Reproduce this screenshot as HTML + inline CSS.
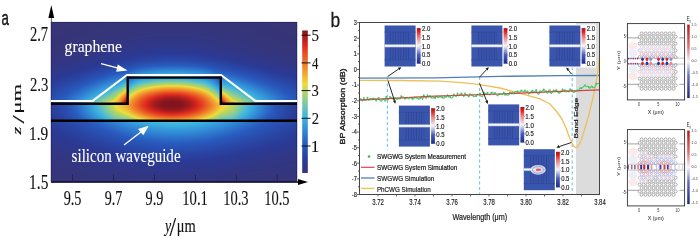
<!DOCTYPE html>
<html><head><meta charset="utf-8">
<style>
html,body{margin:0;padding:0;background:#fff;}
#wrap{position:relative;width:700px;height:239px;overflow:hidden;background:#fff;}
#hmbg{position:absolute;left:51px;top:22px;width:246px;height:160px;background:#373476;}
#hm{position:absolute;left:51px;top:22px;width:246px;height:160px;}
#ov{position:absolute;left:0;top:0;}
</style></head><body>
<div id="wrap">
<div id="hmbg"></div>
<svg width="246" height="160" style="position:absolute;left:51px;top:22px;"><defs><linearGradient id="h0"><stop offset="0.002" stop-color="#373476"/><stop offset="0.904" stop-color="#373477"/><stop offset="0.998" stop-color="#373476"/></linearGradient><linearGradient id="h2"><stop offset="0.002" stop-color="#373476"/><stop offset="0.823" stop-color="#363478"/><stop offset="0.998" stop-color="#373476"/></linearGradient><linearGradient id="h4"><stop offset="0.002" stop-color="#373477"/><stop offset="0.770" stop-color="#363579"/><stop offset="0.998" stop-color="#373477"/></linearGradient><linearGradient id="h6"><stop offset="0.002" stop-color="#373477"/><stop offset="0.734" stop-color="#35357a"/><stop offset="0.998" stop-color="#373477"/></linearGradient><linearGradient id="h8"><stop offset="0.002" stop-color="#373477"/><stop offset="0.705" stop-color="#35357b"/><stop offset="0.998" stop-color="#373477"/></linearGradient><linearGradient id="h10"><stop offset="0.002" stop-color="#373477"/><stop offset="0.681" stop-color="#34357d"/><stop offset="0.998" stop-color="#373477"/></linearGradient><linearGradient id="h12"><stop offset="0.002" stop-color="#373477"/><stop offset="0.661" stop-color="#34367e"/><stop offset="0.998" stop-color="#373477"/></linearGradient><linearGradient id="h14"><stop offset="0.002" stop-color="#373477"/><stop offset="0.644" stop-color="#333680"/><stop offset="0.998" stop-color="#373477"/></linearGradient><linearGradient id="h16"><stop offset="0.002" stop-color="#363477"/><stop offset="0.624" stop-color="#323682"/><stop offset="0.998" stop-color="#363477"/></linearGradient><linearGradient id="h18"><stop offset="0.002" stop-color="#363478"/><stop offset="0.612" stop-color="#323783"/><stop offset="0.998" stop-color="#363478"/></linearGradient><linearGradient id="h20"><stop offset="0.002" stop-color="#363478"/><stop offset="0.596" stop-color="#313786"/><stop offset="0.998" stop-color="#363478"/></linearGradient><linearGradient id="h22"><stop offset="0.002" stop-color="#363478"/><stop offset="0.583" stop-color="#303788"/><stop offset="0.998" stop-color="#363478"/></linearGradient><linearGradient id="h24"><stop offset="0.002" stop-color="#363479"/><stop offset="0.571" stop-color="#2e388b"/><stop offset="0.998" stop-color="#363579"/></linearGradient><linearGradient id="h26"><stop offset="0.002" stop-color="#363579"/><stop offset="0.559" stop-color="#2d398e"/><stop offset="0.998" stop-color="#363579"/></linearGradient><linearGradient id="h28"><stop offset="0.002" stop-color="#35357a"/><stop offset="0.547" stop-color="#2c3992"/><stop offset="0.998" stop-color="#35357a"/></linearGradient><linearGradient id="h30"><stop offset="0.002" stop-color="#35357a"/><stop offset="0.535" stop-color="#2a3a95"/><stop offset="0.998" stop-color="#35357b"/></linearGradient><linearGradient id="h32"><stop offset="0.002" stop-color="#35357b"/><stop offset="0.526" stop-color="#2a3d9a"/><stop offset="0.998" stop-color="#35357c"/></linearGradient><linearGradient id="h34"><stop offset="0.002" stop-color="#34357c"/><stop offset="0.514" stop-color="#2a419f"/><stop offset="0.998" stop-color="#34357d"/></linearGradient><linearGradient id="h36"><stop offset="0.002" stop-color="#34357d"/><stop offset="0.388" stop-color="#2942a0"/><stop offset="0.620" stop-color="#2a419f"/><stop offset="0.998" stop-color="#34367f"/></linearGradient><linearGradient id="h38"><stop offset="0.002" stop-color="#33367f"/><stop offset="0.331" stop-color="#2a429f"/><stop offset="0.543" stop-color="#294bab"/><stop offset="0.868" stop-color="#303788"/><stop offset="0.998" stop-color="#333680"/></linearGradient><linearGradient id="h40"><stop offset="0.002" stop-color="#333680"/><stop offset="0.291" stop-color="#2a419f"/><stop offset="0.498" stop-color="#2852b4"/><stop offset="0.730" stop-color="#2a3f9c"/><stop offset="0.998" stop-color="#323682"/></linearGradient><linearGradient id="h42"><stop offset="0.002" stop-color="#323682"/><stop offset="0.258" stop-color="#2a419f"/><stop offset="0.470" stop-color="#285abe"/><stop offset="0.636" stop-color="#2950b1"/><stop offset="0.872" stop-color="#2d398e"/><stop offset="0.998" stop-color="#313784"/></linearGradient><linearGradient id="h44"><stop offset="0.002" stop-color="#323783"/><stop offset="0.230" stop-color="#2a42a0"/><stop offset="0.429" stop-color="#2a64c3"/><stop offset="0.567" stop-color="#2a64c3"/><stop offset="0.852" stop-color="#2b3a94"/><stop offset="0.998" stop-color="#303786"/></linearGradient><linearGradient id="h46"><stop offset="0.002" stop-color="#313785"/><stop offset="0.205" stop-color="#2942a0"/><stop offset="0.343" stop-color="#295ec0"/><stop offset="0.461" stop-color="#2e79cd"/><stop offset="0.591" stop-color="#2c70c9"/><stop offset="0.697" stop-color="#2852b4"/><stop offset="0.925" stop-color="#2d398f"/><stop offset="0.998" stop-color="#2f3788"/></linearGradient><linearGradient id="h48"><stop offset="0.002" stop-color="#303788"/><stop offset="0.181" stop-color="#2943a1"/><stop offset="0.323" stop-color="#2960c1"/><stop offset="0.396" stop-color="#3080d1"/><stop offset="0.518" stop-color="#328dd7"/><stop offset="0.632" stop-color="#2d75cc"/><stop offset="0.693" stop-color="#2859bd"/><stop offset="0.941" stop-color="#2c3991"/><stop offset="0.998" stop-color="#2e388b"/></linearGradient><linearGradient id="h50"><stop offset="0.002" stop-color="#2f388a"/><stop offset="0.165" stop-color="#2944a3"/><stop offset="0.311" stop-color="#2a66c4"/><stop offset="0.376" stop-color="#328ed7"/><stop offset="0.502" stop-color="#37a1dc"/><stop offset="0.624" stop-color="#328bd7"/><stop offset="0.693" stop-color="#2a65c3"/><stop offset="0.917" stop-color="#2a3b98"/><stop offset="0.998" stop-color="#2d398e"/></linearGradient><linearGradient id="h52"><stop offset="0.002" stop-color="#2e388d"/><stop offset="0.157" stop-color="#2947a6"/><stop offset="0.287" stop-color="#2b69c6"/><stop offset="0.323" stop-color="#3080d1"/><stop offset="0.380" stop-color="#37a2dc"/><stop offset="0.490" stop-color="#3fb5de"/><stop offset="0.600" stop-color="#39a7de"/><stop offset="0.661" stop-color="#3186d4"/><stop offset="0.697" stop-color="#2c70c9"/><stop offset="0.815" stop-color="#294fb0"/><stop offset="0.998" stop-color="#2c3991"/></linearGradient><linearGradient id="h54"><stop offset="0.002" stop-color="#2d398f"/><stop offset="0.173" stop-color="#294fb0"/><stop offset="0.270" stop-color="#2c6fc8"/><stop offset="0.311" stop-color="#3185d3"/><stop offset="0.368" stop-color="#3bb2e0"/><stop offset="0.470" stop-color="#61c0bf"/><stop offset="0.555" stop-color="#5abec5"/><stop offset="0.632" stop-color="#3aaedf"/><stop offset="0.693" stop-color="#3080d1"/><stop offset="0.823" stop-color="#2852b5"/><stop offset="0.998" stop-color="#2b3a94"/></linearGradient><linearGradient id="h56"><stop offset="0.002" stop-color="#2c3992"/><stop offset="0.197" stop-color="#285abe"/><stop offset="0.299" stop-color="#338fd8"/><stop offset="0.307" stop-color="#3597da"/><stop offset="0.311" stop-color="#2a63c3"/><stop offset="0.356" stop-color="#3495d9"/><stop offset="0.445" stop-color="#3fb5df"/><stop offset="0.522" stop-color="#43b6db"/><stop offset="0.591" stop-color="#39a7de"/><stop offset="0.644" stop-color="#3187d5"/><stop offset="0.689" stop-color="#2952b3"/><stop offset="0.693" stop-color="#338ed8"/><stop offset="0.839" stop-color="#2855b7"/><stop offset="0.998" stop-color="#2a3b98"/></linearGradient><linearGradient id="h58"><stop offset="0.002" stop-color="#2a3a95"/><stop offset="0.185" stop-color="#295fc0"/><stop offset="0.291" stop-color="#359ada"/><stop offset="0.307" stop-color="#39aade"/><stop offset="0.311" stop-color="#2d73cb"/><stop offset="0.352" stop-color="#39a6de"/><stop offset="0.380" stop-color="#43b6da"/><stop offset="0.461" stop-color="#6ac3b7"/><stop offset="0.535" stop-color="#67c2ba"/><stop offset="0.620" stop-color="#3bb0e0"/><stop offset="0.665" stop-color="#3080d1"/><stop offset="0.689" stop-color="#2859bc"/><stop offset="0.693" stop-color="#369cdb"/><stop offset="0.860" stop-color="#2855b8"/><stop offset="0.998" stop-color="#2a3e9b"/></linearGradient><linearGradient id="h60"><stop offset="0.002" stop-color="#2a3b98"/><stop offset="0.169" stop-color="#2961c2"/><stop offset="0.283" stop-color="#38a3dd"/><stop offset="0.299" stop-color="#3cb4e1"/><stop offset="0.307" stop-color="#4bb9d3"/><stop offset="0.311" stop-color="#3084d3"/><stop offset="0.343" stop-color="#3cb3e1"/><stop offset="0.384" stop-color="#6ac3b7"/><stop offset="0.457" stop-color="#94ce8a"/><stop offset="0.518" stop-color="#96ce88"/><stop offset="0.591" stop-color="#70c5b1"/><stop offset="0.632" stop-color="#48b8d6"/><stop offset="0.644" stop-color="#3baee0"/><stop offset="0.681" stop-color="#2d74cb"/><stop offset="0.689" stop-color="#2a64c3"/><stop offset="0.693" stop-color="#3aabdf"/><stop offset="0.872" stop-color="#2858bb"/><stop offset="0.998" stop-color="#2a419f"/></linearGradient><linearGradient id="h62"><stop offset="0.002" stop-color="#2a3e9b"/><stop offset="0.152" stop-color="#2a63c2"/><stop offset="0.274" stop-color="#3aacdf"/><stop offset="0.287" stop-color="#43b6da"/><stop offset="0.307" stop-color="#6bc4b6"/><stop offset="0.311" stop-color="#3494d9"/><stop offset="0.331" stop-color="#40b5dd"/><stop offset="0.368" stop-color="#80caa0"/><stop offset="0.433" stop-color="#b6d563"/><stop offset="0.490" stop-color="#ced951"/><stop offset="0.547" stop-color="#b8d661"/><stop offset="0.612" stop-color="#85cb9b"/><stop offset="0.648" stop-color="#49b8d5"/><stop offset="0.657" stop-color="#3bb1e0"/><stop offset="0.689" stop-color="#2d72ca"/><stop offset="0.693" stop-color="#4ab9d4"/><stop offset="0.709" stop-color="#3cb2e1"/><stop offset="0.888" stop-color="#2859bd"/><stop offset="0.998" stop-color="#2944a3"/></linearGradient><linearGradient id="h64"><stop offset="0.002" stop-color="#2a409e"/><stop offset="0.136" stop-color="#2a63c3"/><stop offset="0.262" stop-color="#3cb2e1"/><stop offset="0.295" stop-color="#74c7ae"/><stop offset="0.307" stop-color="#94ce8a"/><stop offset="0.311" stop-color="#39a8de"/><stop offset="0.319" stop-color="#41b6dd"/><stop offset="0.356" stop-color="#94ce8a"/><stop offset="0.392" stop-color="#c4d856"/><stop offset="0.421" stop-color="#f0dc3c"/><stop offset="0.482" stop-color="#f0c237"/><stop offset="0.543" stop-color="#f0cf39"/><stop offset="0.567" stop-color="#ebdb3f"/><stop offset="0.608" stop-color="#b1d469"/><stop offset="0.640" stop-color="#7cc9a5"/><stop offset="0.669" stop-color="#3bb0e0"/><stop offset="0.689" stop-color="#3186d4"/><stop offset="0.693" stop-color="#6fc5b2"/><stop offset="0.713" stop-color="#4dbad2"/><stop offset="0.738" stop-color="#3bb1e0"/><stop offset="0.909" stop-color="#2859bc"/><stop offset="0.998" stop-color="#2947a6"/></linearGradient><linearGradient id="h66"><stop offset="0.002" stop-color="#2943a1"/><stop offset="0.120" stop-color="#2a63c3"/><stop offset="0.246" stop-color="#3cb3e1"/><stop offset="0.283" stop-color="#7ac8a7"/><stop offset="0.307" stop-color="#bfd759"/><stop offset="0.311" stop-color="#48b8d6"/><stop offset="0.352" stop-color="#b1d469"/><stop offset="0.376" stop-color="#ecdc3e"/><stop offset="0.449" stop-color="#f0a030"/><stop offset="0.506" stop-color="#f0972e"/><stop offset="0.563" stop-color="#f0b234"/><stop offset="0.608" stop-color="#ecdc3e"/><stop offset="0.636" stop-color="#a8d273"/><stop offset="0.677" stop-color="#3cb4e1"/><stop offset="0.689" stop-color="#369adb"/><stop offset="0.693" stop-color="#99cf85"/><stop offset="0.713" stop-color="#6ac3b7"/><stop offset="0.758" stop-color="#3cb2e1"/><stop offset="0.925" stop-color="#2859bd"/><stop offset="0.998" stop-color="#294aaa"/></linearGradient><linearGradient id="h68"><stop offset="0.002" stop-color="#2945a4"/><stop offset="0.108" stop-color="#2a65c3"/><stop offset="0.230" stop-color="#3db4e0"/><stop offset="0.266" stop-color="#76c7ac"/><stop offset="0.295" stop-color="#bfd759"/><stop offset="0.303" stop-color="#f0db3c"/><stop offset="0.307" stop-color="#f0cb39"/><stop offset="0.311" stop-color="#67c2b9"/><stop offset="0.348" stop-color="#d5d94c"/><stop offset="0.356" stop-color="#f0da3c"/><stop offset="0.400" stop-color="#f09e30"/><stop offset="0.457" stop-color="#ef7327"/><stop offset="0.514" stop-color="#ee6f27"/><stop offset="0.567" stop-color="#f08e2c"/><stop offset="0.620" stop-color="#f0cc39"/><stop offset="0.628" stop-color="#f0da3c"/><stop offset="0.652" stop-color="#a3d179"/><stop offset="0.685" stop-color="#41b6dd"/><stop offset="0.689" stop-color="#3baee0"/><stop offset="0.693" stop-color="#ccd852"/><stop offset="0.701" stop-color="#abd36f"/><stop offset="0.726" stop-color="#72c6af"/><stop offset="0.778" stop-color="#3cb2e1"/><stop offset="0.937" stop-color="#285abe"/><stop offset="0.998" stop-color="#294cad"/></linearGradient><linearGradient id="h70"><stop offset="0.002" stop-color="#2947a7"/><stop offset="0.096" stop-color="#2a65c4"/><stop offset="0.209" stop-color="#3cb2e1"/><stop offset="0.250" stop-color="#6fc5b2"/><stop offset="0.278" stop-color="#b0d46a"/><stop offset="0.287" stop-color="#d1d94f"/><stop offset="0.291" stop-color="#e9db40"/><stop offset="0.303" stop-color="#f0b234"/><stop offset="0.307" stop-color="#f09f30"/><stop offset="0.311" stop-color="#87cb99"/><stop offset="0.331" stop-color="#c7d854"/><stop offset="0.339" stop-color="#eddc3e"/><stop offset="0.380" stop-color="#f0932d"/><stop offset="0.437" stop-color="#e95a24"/><stop offset="0.490" stop-color="#e44722"/><stop offset="0.543" stop-color="#e85724"/><stop offset="0.600" stop-color="#f08e2c"/><stop offset="0.636" stop-color="#f0cb39"/><stop offset="0.644" stop-color="#eddc3e"/><stop offset="0.657" stop-color="#b8d661"/><stop offset="0.689" stop-color="#52bbcd"/><stop offset="0.693" stop-color="#f0c237"/><stop offset="0.701" stop-color="#e7db41"/><stop offset="0.709" stop-color="#bbd65e"/><stop offset="0.734" stop-color="#80caa1"/><stop offset="0.795" stop-color="#3cb3e1"/><stop offset="0.949" stop-color="#285abe"/><stop offset="0.998" stop-color="#294fb0"/></linearGradient><linearGradient id="h72"><stop offset="0.002" stop-color="#294aaa"/><stop offset="0.083" stop-color="#2a65c3"/><stop offset="0.197" stop-color="#3db4e0"/><stop offset="0.246" stop-color="#7dc9a5"/><stop offset="0.270" stop-color="#b6d563"/><stop offset="0.283" stop-color="#f0da3c"/><stop offset="0.303" stop-color="#f0872b"/><stop offset="0.307" stop-color="#ee7227"/><stop offset="0.311" stop-color="#a6d276"/><stop offset="0.319" stop-color="#bfd759"/><stop offset="0.327" stop-color="#e9db40"/><stop offset="0.339" stop-color="#f0c137"/><stop offset="0.376" stop-color="#f07a28"/><stop offset="0.437" stop-color="#e13a20"/><stop offset="0.486" stop-color="#da281e"/><stop offset="0.539" stop-color="#df3520"/><stop offset="0.596" stop-color="#ed6b26"/><stop offset="0.632" stop-color="#f0a631"/><stop offset="0.652" stop-color="#f0d53b"/><stop offset="0.657" stop-color="#e9db40"/><stop offset="0.665" stop-color="#bfd759"/><stop offset="0.689" stop-color="#71c6b0"/><stop offset="0.693" stop-color="#f0922d"/><stop offset="0.709" stop-color="#f0d63b"/><stop offset="0.722" stop-color="#bbd65e"/><stop offset="0.742" stop-color="#8ecd91"/><stop offset="0.803" stop-color="#44b7da"/><stop offset="0.819" stop-color="#3aaddf"/><stop offset="0.961" stop-color="#285abe"/><stop offset="0.998" stop-color="#2951b3"/></linearGradient><linearGradient id="h74"><stop offset="0.002" stop-color="#294cac"/><stop offset="0.075" stop-color="#2a66c4"/><stop offset="0.181" stop-color="#3cb3e1"/><stop offset="0.238" stop-color="#89cc97"/><stop offset="0.258" stop-color="#aed46c"/><stop offset="0.266" stop-color="#c9d853"/><stop offset="0.274" stop-color="#f0d93b"/><stop offset="0.295" stop-color="#f0892b"/><stop offset="0.307" stop-color="#e44722"/><stop offset="0.311" stop-color="#c6d855"/><stop offset="0.319" stop-color="#f0db3c"/><stop offset="0.360" stop-color="#f07d29"/><stop offset="0.413" stop-color="#df3520"/><stop offset="0.437" stop-color="#d0251e"/><stop offset="0.482" stop-color="#b41f1e"/><stop offset="0.526" stop-color="#be211e"/><stop offset="0.563" stop-color="#dd2d1f"/><stop offset="0.620" stop-color="#ef7528"/><stop offset="0.661" stop-color="#f0d03a"/><stop offset="0.665" stop-color="#f0db3c"/><stop offset="0.677" stop-color="#b6d563"/><stop offset="0.689" stop-color="#90cd8f"/><stop offset="0.693" stop-color="#eb6225"/><stop offset="0.709" stop-color="#f0b234"/><stop offset="0.722" stop-color="#f0dc3c"/><stop offset="0.734" stop-color="#b8d661"/><stop offset="0.783" stop-color="#6fc5b3"/><stop offset="0.827" stop-color="#3bb2e0"/><stop offset="0.970" stop-color="#285bbe"/><stop offset="0.998" stop-color="#2853b6"/></linearGradient><linearGradient id="h76"><stop offset="0.002" stop-color="#294eae"/><stop offset="0.071" stop-color="#2b6ac6"/><stop offset="0.169" stop-color="#3cb4e1"/><stop offset="0.222" stop-color="#87cb98"/><stop offset="0.258" stop-color="#c8d854"/><stop offset="0.266" stop-color="#f0dc3c"/><stop offset="0.287" stop-color="#f0902d"/><stop offset="0.303" stop-color="#e03720"/><stop offset="0.307" stop-color="#c8241e"/><stop offset="0.311" stop-color="#f0da3c"/><stop offset="0.356" stop-color="#ee7127"/><stop offset="0.404" stop-color="#dc2a1e"/><stop offset="0.453" stop-color="#a31b1e"/><stop offset="0.498" stop-color="#96191e"/><stop offset="0.543" stop-color="#ae1e1e"/><stop offset="0.583" stop-color="#de2f1f"/><stop offset="0.632" stop-color="#f07828"/><stop offset="0.673" stop-color="#f0da3c"/><stop offset="0.689" stop-color="#add36d"/><stop offset="0.693" stop-color="#de311f"/><stop offset="0.709" stop-color="#f08e2c"/><stop offset="0.730" stop-color="#f0d93b"/><stop offset="0.742" stop-color="#c4d856"/><stop offset="0.803" stop-color="#67c2ba"/><stop offset="0.839" stop-color="#3bb2e0"/><stop offset="0.978" stop-color="#285bbe"/><stop offset="0.998" stop-color="#2855b8"/></linearGradient><linearGradient id="h78"><stop offset="0.002" stop-color="#294fb1"/><stop offset="0.067" stop-color="#2c6dc7"/><stop offset="0.157" stop-color="#3cb3e1"/><stop offset="0.205" stop-color="#84cb9d"/><stop offset="0.242" stop-color="#c8d854"/><stop offset="0.254" stop-color="#efdc3d"/><stop offset="0.270" stop-color="#f0bb35"/><stop offset="0.291" stop-color="#ea6025"/><stop offset="0.299" stop-color="#dd2e1f"/><stop offset="0.303" stop-color="#b8201e"/><stop offset="0.307" stop-color="#86151e"/><stop offset="0.311" stop-color="#f0c537"/><stop offset="0.360" stop-color="#e95c25"/><stop offset="0.396" stop-color="#d9271e"/><stop offset="0.437" stop-color="#9e1a1e"/><stop offset="0.482" stop-color="#87151e"/><stop offset="0.530" stop-color="#91171e"/><stop offset="0.571" stop-color="#bd211e"/><stop offset="0.591" stop-color="#dd2b1e"/><stop offset="0.640" stop-color="#f07a28"/><stop offset="0.681" stop-color="#f0d93b"/><stop offset="0.689" stop-color="#d0d94f"/><stop offset="0.693" stop-color="#9f1a1e"/><stop offset="0.697" stop-color="#cf251e"/><stop offset="0.701" stop-color="#e13c21"/><stop offset="0.717" stop-color="#f0932d"/><stop offset="0.734" stop-color="#f0cc39"/><stop offset="0.742" stop-color="#f0da3c"/><stop offset="0.766" stop-color="#b3d567"/><stop offset="0.815" stop-color="#67c2b9"/><stop offset="0.852" stop-color="#3bb1e0"/><stop offset="0.982" stop-color="#285cbf"/><stop offset="0.998" stop-color="#2857ba"/></linearGradient><linearGradient id="h80"><stop offset="0.002" stop-color="#2951b3"/><stop offset="0.059" stop-color="#2c6cc7"/><stop offset="0.144" stop-color="#3bb2e0"/><stop offset="0.193" stop-color="#85cb9c"/><stop offset="0.226" stop-color="#c2d758"/><stop offset="0.238" stop-color="#ecdc3e"/><stop offset="0.274" stop-color="#f0992f"/><stop offset="0.291" stop-color="#e34522"/><stop offset="0.295" stop-color="#dd2a1e"/><stop offset="0.303" stop-color="#82141e"/><stop offset="0.307" stop-color="#82141e"/><stop offset="0.311" stop-color="#f0b434"/><stop offset="0.356" stop-color="#e95b24"/><stop offset="0.392" stop-color="#d5261e"/><stop offset="0.433" stop-color="#98191e"/><stop offset="0.474" stop-color="#83141e"/><stop offset="0.535" stop-color="#8b161e"/><stop offset="0.571" stop-color="#b21f1e"/><stop offset="0.600" stop-color="#de2f1f"/><stop offset="0.657" stop-color="#f0912d"/><stop offset="0.689" stop-color="#f0d83b"/><stop offset="0.693" stop-color="#82141e"/><stop offset="0.697" stop-color="#8b161e"/><stop offset="0.701" stop-color="#be211e"/><stop offset="0.705" stop-color="#de311f"/><stop offset="0.722" stop-color="#f08b2c"/><stop offset="0.730" stop-color="#f0a832"/><stop offset="0.758" stop-color="#f0dc3c"/><stop offset="0.778" stop-color="#b6d564"/><stop offset="0.823" stop-color="#6cc4b5"/><stop offset="0.860" stop-color="#3cb3e1"/><stop offset="0.986" stop-color="#295dc0"/><stop offset="0.998" stop-color="#2858bc"/></linearGradient><linearGradient id="h82"><stop offset="0.002" stop-color="#2a3e9b"/><stop offset="0.096" stop-color="#2a62c2"/><stop offset="0.181" stop-color="#3db4e0"/><stop offset="0.222" stop-color="#85cb9b"/><stop offset="0.250" stop-color="#bfd759"/><stop offset="0.262" stop-color="#eddc3e"/><stop offset="0.315" stop-color="#f09f30"/><stop offset="0.364" stop-color="#e44922"/><stop offset="0.388" stop-color="#d8271e"/><stop offset="0.429" stop-color="#99191e"/><stop offset="0.470" stop-color="#83141e"/><stop offset="0.535" stop-color="#89161e"/><stop offset="0.571" stop-color="#ae1e1e"/><stop offset="0.600" stop-color="#dd2a1e"/><stop offset="0.665" stop-color="#f0972e"/><stop offset="0.697" stop-color="#f0d13a"/><stop offset="0.709" stop-color="#eedc3d"/><stop offset="0.742" stop-color="#b5d564"/><stop offset="0.783" stop-color="#67c2ba"/><stop offset="0.811" stop-color="#3bb1e0"/><stop offset="0.909" stop-color="#285abd"/><stop offset="0.998" stop-color="#2a3e9b"/></linearGradient><linearGradient id="h84"><stop offset="0.002" stop-color="#2a3e9b"/><stop offset="0.096" stop-color="#2961c2"/><stop offset="0.181" stop-color="#3cb3e1"/><stop offset="0.226" stop-color="#8acc96"/><stop offset="0.254" stop-color="#c8d854"/><stop offset="0.266" stop-color="#efdc3d"/><stop offset="0.315" stop-color="#f0a431"/><stop offset="0.368" stop-color="#e44722"/><stop offset="0.392" stop-color="#d7271e"/><stop offset="0.433" stop-color="#9c1a1e"/><stop offset="0.474" stop-color="#85151e"/><stop offset="0.530" stop-color="#8c161e"/><stop offset="0.571" stop-color="#b51f1e"/><stop offset="0.596" stop-color="#dd2a1e"/><stop offset="0.661" stop-color="#f0942e"/><stop offset="0.697" stop-color="#f0d53b"/><stop offset="0.709" stop-color="#e7db41"/><stop offset="0.742" stop-color="#b2d468"/><stop offset="0.783" stop-color="#64c1bc"/><stop offset="0.807" stop-color="#3cb4e1"/><stop offset="0.909" stop-color="#2859bd"/><stop offset="0.998" stop-color="#2a3d9a"/></linearGradient><linearGradient id="h86"><stop offset="0.002" stop-color="#2a3d9a"/><stop offset="0.100" stop-color="#2a63c2"/><stop offset="0.185" stop-color="#3cb4e1"/><stop offset="0.230" stop-color="#8bcc94"/><stop offset="0.258" stop-color="#c8d854"/><stop offset="0.270" stop-color="#e8db41"/><stop offset="0.278" stop-color="#f0d73b"/><stop offset="0.315" stop-color="#f0ad33"/><stop offset="0.364" stop-color="#e85824"/><stop offset="0.400" stop-color="#da271e"/><stop offset="0.441" stop-color="#a41b1e"/><stop offset="0.486" stop-color="#8f171e"/><stop offset="0.535" stop-color="#9d1a1e"/><stop offset="0.575" stop-color="#cc251e"/><stop offset="0.591" stop-color="#de301f"/><stop offset="0.657" stop-color="#f0962e"/><stop offset="0.693" stop-color="#f0da3c"/><stop offset="0.734" stop-color="#b4d565"/><stop offset="0.787" stop-color="#58bdc7"/><stop offset="0.807" stop-color="#3bb1e0"/><stop offset="0.909" stop-color="#2858bc"/><stop offset="0.998" stop-color="#2a3d9a"/></linearGradient><linearGradient id="h88"><stop offset="0.002" stop-color="#2a3c99"/><stop offset="0.100" stop-color="#2960c1"/><stop offset="0.189" stop-color="#3cb3e1"/><stop offset="0.234" stop-color="#88cb98"/><stop offset="0.266" stop-color="#c9d853"/><stop offset="0.287" stop-color="#f0dc3c"/><stop offset="0.315" stop-color="#f0bc36"/><stop offset="0.376" stop-color="#e85724"/><stop offset="0.421" stop-color="#d5261e"/><stop offset="0.465" stop-color="#ac1d1e"/><stop offset="0.510" stop-color="#a91d1e"/><stop offset="0.555" stop-color="#cb241e"/><stop offset="0.575" stop-color="#de2f1f"/><stop offset="0.636" stop-color="#f0822a"/><stop offset="0.685" stop-color="#f0da3c"/><stop offset="0.705" stop-color="#c7d855"/><stop offset="0.742" stop-color="#9fd07d"/><stop offset="0.774" stop-color="#64c1bc"/><stop offset="0.799" stop-color="#3cb4e1"/><stop offset="0.904" stop-color="#2858bc"/><stop offset="0.998" stop-color="#2a3c99"/></linearGradient><linearGradient id="h90"><stop offset="0.002" stop-color="#2a3c98"/><stop offset="0.104" stop-color="#295fc1"/><stop offset="0.193" stop-color="#3bb1e0"/><stop offset="0.234" stop-color="#7ac9a7"/><stop offset="0.266" stop-color="#b4d566"/><stop offset="0.307" stop-color="#f0da3c"/><stop offset="0.388" stop-color="#e95e25"/><stop offset="0.445" stop-color="#dc291e"/><stop offset="0.494" stop-color="#c9241e"/><stop offset="0.547" stop-color="#de2e1f"/><stop offset="0.608" stop-color="#ed6d27"/><stop offset="0.677" stop-color="#eddc3e"/><stop offset="0.693" stop-color="#bcd75c"/><stop offset="0.742" stop-color="#90cd8e"/><stop offset="0.783" stop-color="#4cb9d3"/><stop offset="0.795" stop-color="#3bb2e0"/><stop offset="0.900" stop-color="#2858bb"/><stop offset="0.998" stop-color="#2a3b98"/></linearGradient><linearGradient id="h92"><stop offset="0.002" stop-color="#2a3a97"/><stop offset="0.112" stop-color="#2960c1"/><stop offset="0.201" stop-color="#3bb1e0"/><stop offset="0.242" stop-color="#78c8aa"/><stop offset="0.266" stop-color="#a0d17c"/><stop offset="0.307" stop-color="#cad853"/><stop offset="0.323" stop-color="#f0d93b"/><stop offset="0.396" stop-color="#ee7027"/><stop offset="0.453" stop-color="#e34321"/><stop offset="0.506" stop-color="#e13b20"/><stop offset="0.563" stop-color="#e85924"/><stop offset="0.620" stop-color="#f09a2f"/><stop offset="0.661" stop-color="#f0d93b"/><stop offset="0.685" stop-color="#b3d567"/><stop offset="0.713" stop-color="#97cf87"/><stop offset="0.746" stop-color="#78c8aa"/><stop offset="0.787" stop-color="#3bb2e0"/><stop offset="0.892" stop-color="#2859bc"/><stop offset="0.998" stop-color="#2a3a96"/></linearGradient><linearGradient id="h94"><stop offset="0.002" stop-color="#2a3a95"/><stop offset="0.116" stop-color="#295ec0"/><stop offset="0.213" stop-color="#3cb3e1"/><stop offset="0.270" stop-color="#8dcc92"/><stop offset="0.315" stop-color="#b4d566"/><stop offset="0.339" stop-color="#f0dc3c"/><stop offset="0.413" stop-color="#f0812a"/><stop offset="0.470" stop-color="#ea6025"/><stop offset="0.526" stop-color="#eb6425"/><stop offset="0.583" stop-color="#f08e2c"/><stop offset="0.644" stop-color="#f0dc3c"/><stop offset="0.669" stop-color="#b4d566"/><stop offset="0.697" stop-color="#8bcc94"/><stop offset="0.746" stop-color="#65c2bb"/><stop offset="0.774" stop-color="#3cb4e1"/><stop offset="0.884" stop-color="#2859bd"/><stop offset="0.998" stop-color="#2a3a95"/></linearGradient><linearGradient id="h96"><stop offset="0.002" stop-color="#2b3993"/><stop offset="0.124" stop-color="#295dbf"/><stop offset="0.226" stop-color="#3cb2e1"/><stop offset="0.270" stop-color="#74c7ad"/><stop offset="0.315" stop-color="#96ce88"/><stop offset="0.348" stop-color="#cad853"/><stop offset="0.364" stop-color="#f0dc3c"/><stop offset="0.433" stop-color="#f0982e"/><stop offset="0.490" stop-color="#f0842a"/><stop offset="0.547" stop-color="#f0962e"/><stop offset="0.612" stop-color="#f0d23a"/><stop offset="0.620" stop-color="#f0dc3c"/><stop offset="0.648" stop-color="#b4d566"/><stop offset="0.693" stop-color="#74c7ae"/><stop offset="0.746" stop-color="#51bbcd"/><stop offset="0.766" stop-color="#3bafe0"/><stop offset="0.880" stop-color="#2857ba"/><stop offset="0.998" stop-color="#2b3a93"/></linearGradient><linearGradient id="h98"><stop offset="0.002" stop-color="#2c3991"/><stop offset="0.128" stop-color="#2859bd"/><stop offset="0.242" stop-color="#3cb3e1"/><stop offset="0.270" stop-color="#5bbec4"/><stop offset="0.315" stop-color="#77c8ab"/><stop offset="0.380" stop-color="#cfd950"/><stop offset="0.400" stop-color="#f0da3c"/><stop offset="0.465" stop-color="#f0b434"/><stop offset="0.526" stop-color="#f0b634"/><stop offset="0.587" stop-color="#ecdc3e"/><stop offset="0.620" stop-color="#b5d564"/><stop offset="0.689" stop-color="#5dbfc3"/><stop offset="0.750" stop-color="#3bb1e0"/><stop offset="0.864" stop-color="#2859bd"/><stop offset="0.994" stop-color="#2b3993"/><stop offset="0.998" stop-color="#2c3992"/></linearGradient><linearGradient id="h100"><stop offset="0.002" stop-color="#2a3e9b"/><stop offset="0.189" stop-color="#2a63c2"/><stop offset="0.360" stop-color="#38a4dd"/><stop offset="0.441" stop-color="#41b6dc"/><stop offset="0.543" stop-color="#46b7d8"/><stop offset="0.624" stop-color="#3aacdf"/><stop offset="0.811" stop-color="#2c6dc8"/><stop offset="0.929" stop-color="#2950b1"/><stop offset="0.998" stop-color="#2946a4"/></linearGradient><linearGradient id="h102"><stop offset="0.002" stop-color="#2a3d99"/><stop offset="0.205" stop-color="#2a63c3"/><stop offset="0.384" stop-color="#37a1dc"/><stop offset="0.518" stop-color="#3bb1e0"/><stop offset="0.669" stop-color="#3597da"/><stop offset="0.888" stop-color="#2854b6"/><stop offset="0.998" stop-color="#2944a2"/></linearGradient><linearGradient id="h104"><stop offset="0.002" stop-color="#2a3b98"/><stop offset="0.222" stop-color="#2a63c2"/><stop offset="0.409" stop-color="#369ddb"/><stop offset="0.543" stop-color="#38a6dd"/><stop offset="0.709" stop-color="#3082d2"/><stop offset="0.880" stop-color="#2853b5"/><stop offset="0.998" stop-color="#2942a0"/></linearGradient><linearGradient id="h106"><stop offset="0.002" stop-color="#2a3a96"/><stop offset="0.238" stop-color="#2a62c2"/><stop offset="0.425" stop-color="#3597da"/><stop offset="0.567" stop-color="#359ada"/><stop offset="0.750" stop-color="#2c6ec8"/><stop offset="0.892" stop-color="#294eaf"/><stop offset="0.998" stop-color="#2a419e"/></linearGradient><linearGradient id="h108"><stop offset="0.002" stop-color="#2b3a94"/><stop offset="0.254" stop-color="#2960c1"/><stop offset="0.445" stop-color="#3390d8"/><stop offset="0.591" stop-color="#328dd7"/><stop offset="0.864" stop-color="#2950b1"/><stop offset="0.998" stop-color="#2a3f9c"/></linearGradient><linearGradient id="h110"><stop offset="0.002" stop-color="#2b3993"/><stop offset="0.270" stop-color="#295fc0"/><stop offset="0.457" stop-color="#3188d5"/><stop offset="0.604" stop-color="#3082d2"/><stop offset="0.856" stop-color="#294eaf"/><stop offset="0.998" stop-color="#2a3d9a"/></linearGradient><linearGradient id="h112"><stop offset="0.002" stop-color="#2c3991"/><stop offset="0.287" stop-color="#285cbf"/><stop offset="0.474" stop-color="#2f7fd1"/><stop offset="0.632" stop-color="#2d74cb"/><stop offset="0.864" stop-color="#294aaa"/><stop offset="0.998" stop-color="#2a3c98"/></linearGradient><linearGradient id="h114"><stop offset="0.002" stop-color="#2d398f"/><stop offset="0.266" stop-color="#2854b7"/><stop offset="0.490" stop-color="#2e76cc"/><stop offset="0.661" stop-color="#2a66c4"/><stop offset="0.998" stop-color="#2a3a96"/></linearGradient><linearGradient id="h116"><stop offset="0.002" stop-color="#2d388e"/><stop offset="0.230" stop-color="#294cac"/><stop offset="0.453" stop-color="#2b6bc7"/><stop offset="0.620" stop-color="#2a65c3"/><stop offset="0.998" stop-color="#2b3a94"/></linearGradient><linearGradient id="h118"><stop offset="0.002" stop-color="#2e388c"/><stop offset="0.226" stop-color="#2948a8"/><stop offset="0.465" stop-color="#2a64c3"/><stop offset="0.657" stop-color="#2859bc"/><stop offset="0.998" stop-color="#2c3992"/></linearGradient><linearGradient id="h120"><stop offset="0.002" stop-color="#2f388b"/><stop offset="0.234" stop-color="#2946a5"/><stop offset="0.494" stop-color="#285cbf"/><stop offset="0.746" stop-color="#294cac"/><stop offset="0.998" stop-color="#2c3990"/></linearGradient><linearGradient id="h122"><stop offset="0.002" stop-color="#2f3889"/><stop offset="0.246" stop-color="#2945a3"/><stop offset="0.514" stop-color="#2857ba"/><stop offset="0.998" stop-color="#2d398e"/></linearGradient><linearGradient id="h124"><stop offset="0.002" stop-color="#303788"/><stop offset="0.270" stop-color="#2944a3"/><stop offset="0.535" stop-color="#2852b4"/><stop offset="0.998" stop-color="#2e388c"/></linearGradient><linearGradient id="h126"><stop offset="0.002" stop-color="#303786"/><stop offset="0.299" stop-color="#2944a2"/><stop offset="0.559" stop-color="#294eaf"/><stop offset="0.994" stop-color="#2e388b"/><stop offset="0.998" stop-color="#2f388b"/></linearGradient><linearGradient id="h128"><stop offset="0.002" stop-color="#313785"/><stop offset="0.339" stop-color="#2944a2"/><stop offset="0.596" stop-color="#2949a9"/><stop offset="0.998" stop-color="#2f3889"/></linearGradient><linearGradient id="h130"><stop offset="0.002" stop-color="#313784"/><stop offset="0.417" stop-color="#2945a4"/><stop offset="0.697" stop-color="#2a409e"/><stop offset="0.998" stop-color="#303787"/></linearGradient><linearGradient id="h132"><stop offset="0.002" stop-color="#323683"/><stop offset="0.535" stop-color="#2944a2"/><stop offset="0.998" stop-color="#313786"/></linearGradient><linearGradient id="h134"><stop offset="0.002" stop-color="#323681"/><stop offset="0.543" stop-color="#2a409e"/><stop offset="0.998" stop-color="#313785"/></linearGradient><linearGradient id="h136"><stop offset="0.002" stop-color="#333680"/><stop offset="0.551" stop-color="#2a3d9a"/><stop offset="0.998" stop-color="#323683"/></linearGradient><linearGradient id="h138"><stop offset="0.002" stop-color="#33367f"/><stop offset="0.563" stop-color="#2a3a96"/><stop offset="0.998" stop-color="#323682"/></linearGradient><linearGradient id="h140"><stop offset="0.002" stop-color="#34367e"/><stop offset="0.575" stop-color="#2b3993"/><stop offset="0.998" stop-color="#333681"/></linearGradient><linearGradient id="h142"><stop offset="0.002" stop-color="#34357e"/><stop offset="0.587" stop-color="#2c3990"/><stop offset="0.998" stop-color="#333680"/></linearGradient><linearGradient id="h144"><stop offset="0.002" stop-color="#34357d"/><stop offset="0.600" stop-color="#2e388d"/><stop offset="0.998" stop-color="#33367f"/></linearGradient><linearGradient id="h146"><stop offset="0.002" stop-color="#35357c"/><stop offset="0.616" stop-color="#2f388a"/><stop offset="0.998" stop-color="#34357e"/></linearGradient><linearGradient id="h148"><stop offset="0.002" stop-color="#35357b"/><stop offset="0.632" stop-color="#303788"/><stop offset="0.998" stop-color="#34357d"/></linearGradient><linearGradient id="h150"><stop offset="0.002" stop-color="#35357b"/><stop offset="0.648" stop-color="#313786"/><stop offset="0.998" stop-color="#35357c"/></linearGradient><linearGradient id="h152"><stop offset="0.002" stop-color="#35357a"/><stop offset="0.669" stop-color="#323783"/><stop offset="0.998" stop-color="#35357b"/></linearGradient><linearGradient id="h154"><stop offset="0.002" stop-color="#35357a"/><stop offset="0.689" stop-color="#323682"/><stop offset="0.998" stop-color="#35357b"/></linearGradient><linearGradient id="h156"><stop offset="0.002" stop-color="#363579"/><stop offset="0.717" stop-color="#333680"/><stop offset="0.998" stop-color="#35357a"/></linearGradient><linearGradient id="h158"><stop offset="0.002" stop-color="#363579"/><stop offset="0.746" stop-color="#34357e"/><stop offset="0.998" stop-color="#36357a"/></linearGradient></defs><rect y="0" width="246" height="2" fill="url(#h0)"/><rect y="2" width="246" height="2" fill="url(#h2)"/><rect y="4" width="246" height="2" fill="url(#h4)"/><rect y="6" width="246" height="2" fill="url(#h6)"/><rect y="8" width="246" height="2" fill="url(#h8)"/><rect y="10" width="246" height="2" fill="url(#h10)"/><rect y="12" width="246" height="2" fill="url(#h12)"/><rect y="14" width="246" height="2" fill="url(#h14)"/><rect y="16" width="246" height="2" fill="url(#h16)"/><rect y="18" width="246" height="2" fill="url(#h18)"/><rect y="20" width="246" height="2" fill="url(#h20)"/><rect y="22" width="246" height="2" fill="url(#h22)"/><rect y="24" width="246" height="2" fill="url(#h24)"/><rect y="26" width="246" height="2" fill="url(#h26)"/><rect y="28" width="246" height="2" fill="url(#h28)"/><rect y="30" width="246" height="2" fill="url(#h30)"/><rect y="32" width="246" height="2" fill="url(#h32)"/><rect y="34" width="246" height="2" fill="url(#h34)"/><rect y="36" width="246" height="2" fill="url(#h36)"/><rect y="38" width="246" height="2" fill="url(#h38)"/><rect y="40" width="246" height="2" fill="url(#h40)"/><rect y="42" width="246" height="2" fill="url(#h42)"/><rect y="44" width="246" height="2" fill="url(#h44)"/><rect y="46" width="246" height="2" fill="url(#h46)"/><rect y="48" width="246" height="2" fill="url(#h48)"/><rect y="50" width="246" height="2" fill="url(#h50)"/><rect y="52" width="246" height="2" fill="url(#h52)"/><rect y="54" width="246" height="2" fill="url(#h54)"/><rect y="56" width="246" height="2" fill="url(#h56)"/><rect y="58" width="246" height="2" fill="url(#h58)"/><rect y="60" width="246" height="2" fill="url(#h60)"/><rect y="62" width="246" height="2" fill="url(#h62)"/><rect y="64" width="246" height="2" fill="url(#h64)"/><rect y="66" width="246" height="2" fill="url(#h66)"/><rect y="68" width="246" height="2" fill="url(#h68)"/><rect y="70" width="246" height="2" fill="url(#h70)"/><rect y="72" width="246" height="2" fill="url(#h72)"/><rect y="74" width="246" height="2" fill="url(#h74)"/><rect y="76" width="246" height="2" fill="url(#h76)"/><rect y="78" width="246" height="2" fill="url(#h78)"/><rect y="80" width="246" height="2" fill="url(#h80)"/><rect y="82" width="246" height="2" fill="url(#h82)"/><rect y="84" width="246" height="2" fill="url(#h84)"/><rect y="86" width="246" height="2" fill="url(#h86)"/><rect y="88" width="246" height="2" fill="url(#h88)"/><rect y="90" width="246" height="2" fill="url(#h90)"/><rect y="92" width="246" height="2" fill="url(#h92)"/><rect y="94" width="246" height="2" fill="url(#h94)"/><rect y="96" width="246" height="2" fill="url(#h96)"/><rect y="98" width="246" height="2" fill="url(#h98)"/><rect y="100" width="246" height="2" fill="url(#h100)"/><rect y="102" width="246" height="2" fill="url(#h102)"/><rect y="104" width="246" height="2" fill="url(#h104)"/><rect y="106" width="246" height="2" fill="url(#h106)"/><rect y="108" width="246" height="2" fill="url(#h108)"/><rect y="110" width="246" height="2" fill="url(#h110)"/><rect y="112" width="246" height="2" fill="url(#h112)"/><rect y="114" width="246" height="2" fill="url(#h114)"/><rect y="116" width="246" height="2" fill="url(#h116)"/><rect y="118" width="246" height="2" fill="url(#h118)"/><rect y="120" width="246" height="2" fill="url(#h120)"/><rect y="122" width="246" height="2" fill="url(#h122)"/><rect y="124" width="246" height="2" fill="url(#h124)"/><rect y="126" width="246" height="2" fill="url(#h126)"/><rect y="128" width="246" height="2" fill="url(#h128)"/><rect y="130" width="246" height="2" fill="url(#h130)"/><rect y="132" width="246" height="2" fill="url(#h132)"/><rect y="134" width="246" height="2" fill="url(#h134)"/><rect y="136" width="246" height="2" fill="url(#h136)"/><rect y="138" width="246" height="2" fill="url(#h138)"/><rect y="140" width="246" height="2" fill="url(#h140)"/><rect y="142" width="246" height="2" fill="url(#h142)"/><rect y="144" width="246" height="2" fill="url(#h144)"/><rect y="146" width="246" height="2" fill="url(#h146)"/><rect y="148" width="246" height="2" fill="url(#h148)"/><rect y="150" width="246" height="2" fill="url(#h150)"/><rect y="152" width="246" height="2" fill="url(#h152)"/><rect y="154" width="246" height="2" fill="url(#h154)"/><rect y="156" width="246" height="2" fill="url(#h156)"/><rect y="158" width="246" height="2" fill="url(#h158)"/></svg>
<canvas id="hm" width="246" height="160"></canvas>
<svg id="ov" width="700" height="239" viewBox="0 0 700 239">
<text transform="translate(1.47,25.00) scale(0.670,1)" font-size="19.82" font-family='"Liberation Sans",sans-serif' fill="#1a1a1a" stroke="#1a1a1a" stroke-width="0.5" >a</text>
<line x1="51.4" y1="23" x2="51.4" y2="16" stroke="#333" stroke-width="0.8"/>
<polygon points="51.3,5 48.4,18 54.2,18" fill="#000"/>
<line x1="51" y1="182" x2="300" y2="182" stroke="#000" stroke-width="1.3"/>
<polygon points="308,182 298,178.9 298,185.1" fill="#000"/>
<rect x="51.2" y="22.3" width="245.6" height="159.7" fill="none" stroke="#262660" stroke-width="0.8"/>
<line x1="72.5" y1="174.5" x2="72.5" y2="182" stroke="#23234e" stroke-width="0.9"/>
<line x1="113.5" y1="174.5" x2="113.5" y2="182" stroke="#23234e" stroke-width="0.9"/>
<line x1="154.4" y1="174.5" x2="154.4" y2="182" stroke="#23234e" stroke-width="0.9"/>
<line x1="195.4" y1="174.5" x2="195.4" y2="182" stroke="#23234e" stroke-width="0.9"/>
<line x1="236.3" y1="174.5" x2="236.3" y2="182" stroke="#23234e" stroke-width="0.9"/>
<line x1="277.2" y1="174.5" x2="277.2" y2="182" stroke="#23234e" stroke-width="0.9"/>
<polyline points="51,100.9 92.7,100.9 127,75 221,75 255.3,100.9 297,100.9" fill="none" stroke="#fff" stroke-width="2"/>
<polyline points="51,103.8 127.7,103.8 127.7,77.6 220.8,77.6 220.8,103.8 297,103.8" fill="none" stroke="#000" stroke-width="2.4"/>
<line x1="51" y1="120.8" x2="297" y2="120.8" stroke="#000" stroke-width="2.4"/>
<text transform="translate(64.57,52.02) scale(0.993,1)" font-size="15.82" font-family='"Liberation Serif",serif' fill="#fff" stroke="#fff" stroke-width="0.1" >graphene</text>
<text transform="translate(71.60,162.48) scale(0.845,1)" font-size="17.80" font-family='"Liberation Serif",serif' fill="#fff" stroke="#fff" stroke-width="0.1" >silicon waveguide</text>
<g stroke="#fff" stroke-width="1.3" fill="#fff"><line x1="101" y1="63.6" x2="120" y2="68.6"/><polygon points="125.5,70 118.2,65.6 117.0,71.0"/><line x1="124" y1="144.9" x2="142.5" y2="130.8"/><polygon points="147.3,127 139.2,129.3 143.2,134.2"/></g>
<defs><linearGradient id="jet" x1="0" y1="1" x2="0" y2="0">
<stop offset="0" stop-color="rgb(55,52,118)"/><stop offset="0.09" stop-color="rgb(40,60,150)"/><stop offset="0.2" stop-color="rgb(40,90,190)"/><stop offset="0.3" stop-color="rgb(50,140,215)"/><stop offset="0.39" stop-color="rgb(60,180,225)"/><stop offset="0.48" stop-color="rgb(120,200,170)"/><stop offset="0.58" stop-color="rgb(190,215,90)"/><stop offset="0.62" stop-color="rgb(240,220,60)"/><stop offset="0.77" stop-color="rgb(240,120,40)"/><stop offset="0.9" stop-color="rgb(220,40,30)"/><stop offset="1" stop-color="rgb(130,20,30)"/>
</linearGradient></defs>
<rect x="302.2" y="30.5" width="5.6" height="142.5" fill="url(#jet)"/>
<line x1="301.5" y1="35.2" x2="310.5" y2="35.2" stroke="#111" stroke-width="1"/>
<text transform="translate(311.40,40.73) scale(0.868,1)" font-size="17.27" font-family='"Liberation Serif",serif' fill="#111" stroke="#111" stroke-width="0.12" >5</text>
<line x1="301.5" y1="62.9" x2="310.5" y2="62.9" stroke="#111" stroke-width="1"/>
<text transform="translate(312.04,68.60) scale(0.728,1)" font-size="17.54" font-family='"Liberation Serif",serif' fill="#111" stroke="#111" stroke-width="0.12" >4</text>
<line x1="301.5" y1="90.6" x2="310.5" y2="90.6" stroke="#111" stroke-width="1"/>
<text transform="translate(311.57,96.13) scale(0.860,1)" font-size="17.01" font-family='"Liberation Serif",serif' fill="#111" stroke="#111" stroke-width="0.12" >3</text>
<line x1="301.5" y1="118.3" x2="310.5" y2="118.3" stroke="#111" stroke-width="1"/>
<text transform="translate(311.71,124.00) scale(0.834,1)" font-size="17.54" font-family='"Liberation Serif",serif' fill="#111" stroke="#111" stroke-width="0.12" >2</text>
<line x1="301.5" y1="146.0" x2="310.5" y2="146.0" stroke="#111" stroke-width="1"/>
<text transform="translate(310.76,151.70) scale(0.977,1)" font-size="17.54" font-family='"Liberation Serif",serif' fill="#111" stroke="#111" stroke-width="0.12" >1</text>
<text transform="translate(29.92,41.40) scale(0.729,1)" font-size="20.00" font-family='"Liberation Serif",serif' fill="#111" stroke="#111" stroke-width="0.12" >2.7</text>
<text transform="translate(29.91,90.60) scale(0.746,1)" font-size="19.70" font-family='"Liberation Serif",serif' fill="#111" stroke="#111" stroke-width="0.12" >2.3</text>
<text transform="translate(29.12,139.80) scale(0.779,1)" font-size="19.70" font-family='"Liberation Serif",serif' fill="#111" stroke="#111" stroke-width="0.12" >1.9</text>
<text transform="translate(29.12,189.00) scale(0.768,1)" font-size="20.00" font-family='"Liberation Serif",serif' fill="#111" stroke="#111" stroke-width="0.12" >1.5</text>
<text transform="translate(63.67,205.00) scale(0.712,1)" font-size="20.00" font-family='"Liberation Serif",serif' fill="#111" stroke="#111" stroke-width="0.12" >9.5</text>
<text transform="translate(104.63,205.00) scale(0.706,1)" font-size="20.00" font-family='"Liberation Serif",serif' fill="#111" stroke="#111" stroke-width="0.12" >9.7</text>
<text transform="translate(145.57,205.00) scale(0.712,1)" font-size="20.00" font-family='"Liberation Serif",serif' fill="#111" stroke="#111" stroke-width="0.12" >9.9</text>
<text transform="translate(182.28,205.00) scale(0.734,1)" font-size="20.00" font-family='"Liberation Serif",serif' fill="#111" stroke="#111" stroke-width="0.12" >10.1</text>
<text transform="translate(223.24,205.00) scale(0.725,1)" font-size="20.00" font-family='"Liberation Serif",serif' fill="#111" stroke="#111" stroke-width="0.12" >10.3</text>
<text transform="translate(264.19,205.00) scale(0.725,1)" font-size="20.00" font-family='"Liberation Serif",serif' fill="#111" stroke="#111" stroke-width="0.12" >10.5</text>
<text transform="translate(164.91,231.83) scale(0.730,1)" font-size="18.97" font-family='"Liberation Serif",serif' fill="#111" stroke="#111" stroke-width="0.12" ><tspan font-style="italic">y</tspan></text>
<text transform="translate(169.60,235.72) scale(0.844,1)" font-size="28.36" font-family='"Liberation Serif",serif' fill="#111" stroke="#111" stroke-width="0.12" >/</text>
<text transform="translate(176.85,231.74) scale(0.785,1)" font-size="18.38" font-family='"Liberation Serif",serif' fill="#111" stroke="#111" stroke-width="0.12" >μm</text>
<text transform="translate(21.40,134.40) rotate(-90) scale(1.508,1)" font-size="13.26" font-family='"Liberation Serif",serif' fill="#111" stroke="#111" stroke-width="0.12" ><tspan font-style="italic">z</tspan></text>
<text transform="translate(24.03,123.60) rotate(-90) scale(1.733,1)" font-size="17.31" font-family='"Liberation Serif",serif' fill="#111" stroke="#111" stroke-width="0.12" >/</text>
<text transform="translate(21.01,113.82) rotate(-90) scale(1.845,1)" font-size="12.35" font-family='"Liberation Serif",serif' fill="#111" stroke="#111" stroke-width="0.12" >μm</text>
<text transform="translate(330.46,27.49) scale(0.830,1)" font-size="20.96" font-family='"Liberation Sans",sans-serif' fill="#1a1a1a" stroke="#1a1a1a" stroke-width="0.3" >b</text>
<rect x="576" y="22.5" width="23.5" height="172.0" fill="#dcdcdc"/>
<line x1="387.4" y1="78" x2="387.4" y2="194.5" stroke="#6cc8e8" stroke-width="1.1" stroke-dasharray="3,2.5"/>
<line x1="479.6" y1="77" x2="479.6" y2="194.5" stroke="#6cc8e8" stroke-width="1.1" stroke-dasharray="3,2.5"/>
<line x1="572.2" y1="67" x2="572.2" y2="194.5" stroke="#6cc8e8" stroke-width="1.1" stroke-dasharray="3,2.5"/>
<polyline fill="none" stroke="#4f80b8" stroke-width="1.3" points="359,78.1 435,77.8 500,76.4 560,75.6 600,75.5"/>
<polyline fill="none" stroke="#eec05a" stroke-width="1.3" stroke-linejoin="round" points="359,80.3 400,80.5 440,81.2 465,82.8 480,84.6 500,88 522,93.9 540,98.9 550,104 557,112 562,119 566,128 570,139 573,145 575.6,147.8 578,146.5 581,141 585,128 588,118 591,106 593.5,95 595.8,84 597.5,74 598.6,65 599.3,57"/>
<polyline fill="none" stroke="#5ccc78" stroke-width="1.2" stroke-linejoin="round" points="360.0,99.8 361.2,99.1 362.5,101.0 363.8,98.7 365.0,100.5 366.2,99.7 367.5,98.4 368.8,100.2 370.0,98.2 371.2,99.8 372.5,98.2 373.8,98.3 375.0,99.5 376.2,101.1 377.5,98.2 378.8,98.6 380.0,100.1 381.2,101.3 382.5,99.8 383.8,99.0 385.0,101.3 386.2,97.5 387.5,100.7 388.8,98.4 390.0,97.7 391.2,97.6 392.5,98.3 393.8,100.2 395.0,97.6 396.2,99.2 397.5,99.3 398.8,98.2 400.0,98.9 401.2,96.9 402.5,96.8 403.8,97.3 405.0,99.2 406.2,98.1 407.5,97.6 408.8,98.6 410.0,98.0 411.2,97.3 412.5,99.3 413.8,98.8 415.0,96.9 416.2,98.2 417.5,98.0 418.8,99.3 420.0,98.7 421.2,96.8 422.5,99.5 423.8,96.0 425.0,97.2 426.2,98.5 427.5,96.0 428.8,97.3 430.0,95.4 431.2,97.9 432.5,98.2 433.8,97.4 435.0,98.5 436.2,96.2 437.5,97.7 438.8,97.2 440.0,97.1 441.2,96.6 442.5,98.0 443.8,98.4 445.0,96.5 446.2,97.2 447.5,94.7 448.8,97.2 450.0,96.9 451.2,98.2 452.5,97.5 453.8,95.3 455.0,95.6 456.2,96.7 457.5,94.1 458.8,95.8 460.0,94.5 461.2,94.3 462.5,94.0 463.8,96.7 465.0,94.1 466.2,94.5 467.5,95.1 468.8,96.9 470.0,93.7 471.2,95.1 472.5,95.5 473.8,96.7 475.0,96.4 476.2,96.5 477.5,94.1 478.8,94.6 480.0,94.3 481.2,96.4 482.5,96.6 483.8,93.3 485.0,93.4 486.2,93.5 487.5,93.5 488.8,94.4 490.0,94.8 491.2,93.4 492.5,92.3 493.8,93.9 495.0,93.7 496.2,94.4 497.5,95.9 498.8,94.8 500.0,94.0 501.2,94.4 502.5,94.6 503.8,92.0 505.0,95.3 506.2,94.8 507.5,95.1 508.8,94.8 510.0,93.1 511.2,93.0 512.5,91.8 513.8,93.9 515.0,91.5 516.2,91.5 517.5,92.0 518.8,91.7 520.0,92.4 521.2,91.2 522.5,90.9 523.8,91.5 525.0,91.2 526.2,92.2 527.5,90.8 528.8,94.1 530.0,93.0 531.2,91.1 532.5,91.5 533.8,91.8 535.0,91.8 536.2,90.8 537.5,93.6 538.8,94.1 540.0,92.0 541.2,92.0 542.5,90.3 543.8,90.3 545.0,91.2 546.2,90.9 547.5,93.1 548.8,90.3 550.0,89.7 551.2,93.4 552.5,91.6 553.8,90.0 555.0,91.6 556.2,89.4 557.5,91.4 558.8,93.1 560.0,92.6 561.2,91.9 562.5,90.1 563.8,90.4 565.0,89.6 566.2,91.9 567.5,90.9 568.8,91.9 570.0,90.0 571.2,89.5 572.5,91.8 573.8,92.4 575.0,91.7 576.2,91.2 577.5,90.9 578.8,90.3 580.0,87.9 581.2,88.8 582.5,87.8 583.8,86.2 585.0,85.9 586.2,86.6 587.5,86.2 588.8,87.6 590.0,88.4 591.2,86.0 592.5,87.7 593.8,87.6 595.0,87.1 596.2,84.5 597.5,83.6 598.8,83.3"/>
<polyline fill="none" stroke="#cc4444" stroke-width="1.2" points="359,100.2 435,96.2 500,94.0 560,91.3 600,89.8"/>
<circle cx="360.0" cy="99.0" r="0.9" fill="#44c064"/>
<circle cx="363.8" cy="97.9" r="0.9" fill="#44c064"/>
<circle cx="367.5" cy="97.6" r="0.9" fill="#44c064"/>
<circle cx="371.2" cy="99.0" r="0.9" fill="#44c064"/>
<circle cx="375.0" cy="98.7" r="0.9" fill="#44c064"/>
<circle cx="378.8" cy="97.8" r="0.9" fill="#44c064"/>
<circle cx="382.5" cy="99.0" r="0.9" fill="#44c064"/>
<circle cx="386.2" cy="96.7" r="0.9" fill="#44c064"/>
<circle cx="390.0" cy="96.9" r="0.9" fill="#44c064"/>
<circle cx="393.8" cy="99.4" r="0.9" fill="#44c064"/>
<circle cx="397.5" cy="98.5" r="0.9" fill="#44c064"/>
<circle cx="401.2" cy="96.1" r="0.9" fill="#44c064"/>
<circle cx="405.0" cy="98.4" r="0.9" fill="#44c064"/>
<circle cx="408.8" cy="97.8" r="0.9" fill="#44c064"/>
<circle cx="412.5" cy="98.5" r="0.9" fill="#44c064"/>
<circle cx="416.2" cy="97.4" r="0.9" fill="#44c064"/>
<circle cx="420.0" cy="97.9" r="0.9" fill="#44c064"/>
<circle cx="423.8" cy="95.2" r="0.9" fill="#44c064"/>
<circle cx="427.5" cy="95.2" r="0.9" fill="#44c064"/>
<circle cx="431.2" cy="97.1" r="0.9" fill="#44c064"/>
<circle cx="435.0" cy="97.7" r="0.9" fill="#44c064"/>
<circle cx="438.8" cy="96.4" r="0.9" fill="#44c064"/>
<circle cx="442.5" cy="97.2" r="0.9" fill="#44c064"/>
<circle cx="446.2" cy="96.4" r="0.9" fill="#44c064"/>
<circle cx="450.0" cy="96.1" r="0.9" fill="#44c064"/>
<circle cx="453.8" cy="94.5" r="0.9" fill="#44c064"/>
<circle cx="457.5" cy="93.3" r="0.9" fill="#44c064"/>
<circle cx="461.2" cy="93.5" r="0.9" fill="#44c064"/>
<circle cx="465.0" cy="93.3" r="0.9" fill="#44c064"/>
<circle cx="468.8" cy="96.1" r="0.9" fill="#44c064"/>
<circle cx="472.5" cy="94.7" r="0.9" fill="#44c064"/>
<circle cx="476.2" cy="95.7" r="0.9" fill="#44c064"/>
<circle cx="480.0" cy="93.5" r="0.9" fill="#44c064"/>
<circle cx="483.8" cy="92.5" r="0.9" fill="#44c064"/>
<circle cx="487.5" cy="92.7" r="0.9" fill="#44c064"/>
<circle cx="491.2" cy="92.6" r="0.9" fill="#44c064"/>
<circle cx="495.0" cy="92.9" r="0.9" fill="#44c064"/>
<circle cx="498.8" cy="94.0" r="0.9" fill="#44c064"/>
<circle cx="502.5" cy="93.8" r="0.9" fill="#44c064"/>
<circle cx="506.2" cy="94.0" r="0.9" fill="#44c064"/>
<circle cx="510.0" cy="92.3" r="0.9" fill="#44c064"/>
<circle cx="513.8" cy="93.1" r="0.9" fill="#44c064"/>
<circle cx="517.5" cy="91.2" r="0.9" fill="#44c064"/>
<circle cx="521.2" cy="90.4" r="0.9" fill="#44c064"/>
<circle cx="525.0" cy="90.4" r="0.9" fill="#44c064"/>
<circle cx="528.8" cy="93.3" r="0.9" fill="#44c064"/>
<circle cx="532.5" cy="90.7" r="0.9" fill="#44c064"/>
<circle cx="536.2" cy="90.0" r="0.9" fill="#44c064"/>
<circle cx="540.0" cy="91.2" r="0.9" fill="#44c064"/>
<circle cx="543.8" cy="89.5" r="0.9" fill="#44c064"/>
<circle cx="547.5" cy="92.3" r="0.9" fill="#44c064"/>
<circle cx="551.2" cy="92.6" r="0.9" fill="#44c064"/>
<circle cx="555.0" cy="90.8" r="0.9" fill="#44c064"/>
<circle cx="558.8" cy="92.3" r="0.9" fill="#44c064"/>
<circle cx="562.5" cy="89.3" r="0.9" fill="#44c064"/>
<circle cx="566.2" cy="91.1" r="0.9" fill="#44c064"/>
<circle cx="570.0" cy="89.2" r="0.9" fill="#44c064"/>
<circle cx="573.8" cy="91.6" r="0.9" fill="#44c064"/>
<circle cx="577.5" cy="90.1" r="0.9" fill="#44c064"/>
<circle cx="581.2" cy="88.0" r="0.9" fill="#44c064"/>
<circle cx="585.0" cy="85.1" r="0.9" fill="#44c064"/>
<circle cx="588.8" cy="86.8" r="0.9" fill="#44c064"/>
<circle cx="592.5" cy="86.9" r="0.9" fill="#44c064"/>
<circle cx="596.2" cy="83.7" r="0.9" fill="#44c064"/>
<rect x="359.5" y="22.5" width="240.0" height="172.0" fill="none" stroke="#444" stroke-width="1"/>
<line x1="357.0" y1="22.60" x2="359.5" y2="22.60" stroke="#444" stroke-width="0.8"/>
<line x1="358.0" y1="30.42" x2="359.5" y2="30.42" stroke="#444" stroke-width="0.8"/>
<line x1="357.0" y1="38.23" x2="359.5" y2="38.23" stroke="#444" stroke-width="0.8"/>
<line x1="358.0" y1="46.05" x2="359.5" y2="46.05" stroke="#444" stroke-width="0.8"/>
<line x1="357.0" y1="53.86" x2="359.5" y2="53.86" stroke="#444" stroke-width="0.8"/>
<line x1="358.0" y1="61.68" x2="359.5" y2="61.68" stroke="#444" stroke-width="0.8"/>
<line x1="357.0" y1="69.49" x2="359.5" y2="69.49" stroke="#444" stroke-width="0.8"/>
<line x1="358.0" y1="77.31" x2="359.5" y2="77.31" stroke="#444" stroke-width="0.8"/>
<line x1="357.0" y1="85.12" x2="359.5" y2="85.12" stroke="#444" stroke-width="0.8"/>
<line x1="358.0" y1="92.94" x2="359.5" y2="92.94" stroke="#444" stroke-width="0.8"/>
<line x1="357.0" y1="100.75" x2="359.5" y2="100.75" stroke="#444" stroke-width="0.8"/>
<line x1="358.0" y1="108.56" x2="359.5" y2="108.56" stroke="#444" stroke-width="0.8"/>
<line x1="357.0" y1="116.38" x2="359.5" y2="116.38" stroke="#444" stroke-width="0.8"/>
<line x1="358.0" y1="124.19" x2="359.5" y2="124.19" stroke="#444" stroke-width="0.8"/>
<line x1="357.0" y1="132.01" x2="359.5" y2="132.01" stroke="#444" stroke-width="0.8"/>
<line x1="358.0" y1="139.83" x2="359.5" y2="139.83" stroke="#444" stroke-width="0.8"/>
<line x1="357.0" y1="147.64" x2="359.5" y2="147.64" stroke="#444" stroke-width="0.8"/>
<line x1="358.0" y1="155.46" x2="359.5" y2="155.46" stroke="#444" stroke-width="0.8"/>
<line x1="357.0" y1="163.27" x2="359.5" y2="163.27" stroke="#444" stroke-width="0.8"/>
<line x1="358.0" y1="171.09" x2="359.5" y2="171.09" stroke="#444" stroke-width="0.8"/>
<line x1="357.0" y1="178.90" x2="359.5" y2="178.90" stroke="#444" stroke-width="0.8"/>
<line x1="358.0" y1="186.72" x2="359.5" y2="186.72" stroke="#444" stroke-width="0.8"/>
<line x1="357.0" y1="194.53" x2="359.5" y2="194.53" stroke="#444" stroke-width="0.8"/>
<text transform="translate(353.78,24.84) scale(0.854,1)" font-size="6.48" font-family='"Liberation Sans",sans-serif' fill="#1a1a1a" stroke="#1a1a1a" stroke-width="0.15" >3</text>
<text transform="translate(353.72,40.53) scale(0.860,1)" font-size="6.57" font-family='"Liberation Sans",sans-serif' fill="#1a1a1a" stroke="#1a1a1a" stroke-width="0.15" >2</text>
<text transform="translate(353.52,56.16) scale(0.907,1)" font-size="6.67" font-family='"Liberation Sans",sans-serif' fill="#1a1a1a" stroke="#1a1a1a" stroke-width="0.15" >1</text>
<text transform="translate(353.78,71.73) scale(0.836,1)" font-size="6.48" font-family='"Liberation Sans",sans-serif' fill="#1a1a1a" stroke="#1a1a1a" stroke-width="0.15" >0</text>
<text transform="translate(351.77,87.42) scale(0.863,1)" font-size="6.67" font-family='"Liberation Sans",sans-serif' fill="#1a1a1a" stroke="#1a1a1a" stroke-width="0.15" >-1</text>
<text transform="translate(351.77,103.05) scale(0.875,1)" font-size="6.57" font-family='"Liberation Sans",sans-serif' fill="#1a1a1a" stroke="#1a1a1a" stroke-width="0.15" >-2</text>
<text transform="translate(351.77,118.62) scale(0.888,1)" font-size="6.48" font-family='"Liberation Sans",sans-serif' fill="#1a1a1a" stroke="#1a1a1a" stroke-width="0.15" >-3</text>
<text transform="translate(351.78,134.31) scale(0.841,1)" font-size="6.67" font-family='"Liberation Sans",sans-serif' fill="#1a1a1a" stroke="#1a1a1a" stroke-width="0.15" >-4</text>
<text transform="translate(351.77,149.87) scale(0.864,1)" font-size="6.57" font-family='"Liberation Sans",sans-serif' fill="#1a1a1a" stroke="#1a1a1a" stroke-width="0.15" >-5</text>
<text transform="translate(351.77,165.51) scale(0.888,1)" font-size="6.48" font-family='"Liberation Sans",sans-serif' fill="#1a1a1a" stroke="#1a1a1a" stroke-width="0.15" >-6</text>
<text transform="translate(351.77,181.20) scale(0.863,1)" font-size="6.67" font-family='"Liberation Sans",sans-serif' fill="#1a1a1a" stroke="#1a1a1a" stroke-width="0.15" >-7</text>
<text transform="translate(351.77,196.77) scale(0.888,1)" font-size="6.48" font-family='"Liberation Sans",sans-serif' fill="#1a1a1a" stroke="#1a1a1a" stroke-width="0.15" >-8</text>
<line x1="378.00" y1="194.5" x2="378.00" y2="196.5" stroke="#444" stroke-width="0.8"/>
<line x1="396.50" y1="194.5" x2="396.50" y2="196.5" stroke="#444" stroke-width="0.8"/>
<line x1="415.00" y1="194.5" x2="415.00" y2="196.5" stroke="#444" stroke-width="0.8"/>
<line x1="433.50" y1="194.5" x2="433.50" y2="196.5" stroke="#444" stroke-width="0.8"/>
<line x1="452.00" y1="194.5" x2="452.00" y2="196.5" stroke="#444" stroke-width="0.8"/>
<line x1="470.50" y1="194.5" x2="470.50" y2="196.5" stroke="#444" stroke-width="0.8"/>
<line x1="489.00" y1="194.5" x2="489.00" y2="196.5" stroke="#444" stroke-width="0.8"/>
<line x1="507.50" y1="194.5" x2="507.50" y2="196.5" stroke="#444" stroke-width="0.8"/>
<line x1="526.00" y1="194.5" x2="526.00" y2="196.5" stroke="#444" stroke-width="0.8"/>
<line x1="544.50" y1="194.5" x2="544.50" y2="196.5" stroke="#444" stroke-width="0.8"/>
<line x1="563.00" y1="194.5" x2="563.00" y2="196.5" stroke="#444" stroke-width="0.8"/>
<line x1="581.50" y1="194.5" x2="581.50" y2="196.5" stroke="#444" stroke-width="0.8"/>
<text transform="translate(372.16,205.02) scale(0.737,1)" font-size="8.17" font-family='"Liberation Sans",sans-serif' fill="#1a1a1a" stroke="#1a1a1a" stroke-width="0.15" >3.72</text>
<text transform="translate(409.16,205.02) scale(0.729,1)" font-size="8.17" font-family='"Liberation Sans",sans-serif' fill="#1a1a1a" stroke="#1a1a1a" stroke-width="0.15" >3.74</text>
<text transform="translate(446.16,205.02) scale(0.737,1)" font-size="8.17" font-family='"Liberation Sans",sans-serif' fill="#1a1a1a" stroke="#1a1a1a" stroke-width="0.15" >3.76</text>
<text transform="translate(483.16,205.02) scale(0.737,1)" font-size="8.17" font-family='"Liberation Sans",sans-serif' fill="#1a1a1a" stroke="#1a1a1a" stroke-width="0.15" >3.78</text>
<text transform="translate(520.16,205.02) scale(0.733,1)" font-size="8.17" font-family='"Liberation Sans",sans-serif' fill="#1a1a1a" stroke="#1a1a1a" stroke-width="0.15" >3.80</text>
<text transform="translate(557.16,205.02) scale(0.737,1)" font-size="8.17" font-family='"Liberation Sans",sans-serif' fill="#1a1a1a" stroke="#1a1a1a" stroke-width="0.15" >3.82</text>
<text transform="translate(594.16,205.02) scale(0.729,1)" font-size="8.17" font-family='"Liberation Sans",sans-serif' fill="#1a1a1a" stroke="#1a1a1a" stroke-width="0.15" >3.84</text>
<text transform="translate(452.40,219.66) scale(0.871,1)" font-size="8.28" font-family='"Liberation Sans",sans-serif' fill="#1a1a1a" stroke="#1a1a1a" stroke-width="0.2" >Wavelength (μm)</text>
<text transform="translate(344.87,144.52) rotate(-90) scale(1.160,1)" font-size="7.74" font-family='"Liberation Sans",sans-serif' fill="#1a1a1a" stroke="#1a1a1a" stroke-width="0.35" >BP Absorption (dB)</text>
<rect x="360" y="150" width="112" height="44" fill="#fff"/>
<circle cx="369" cy="156.5" r="1.3" fill="#3db55a"/>
<line x1="361" y1="167.3" x2="374.5" y2="167.3" stroke="#dd4444" stroke-width="1.2"/>
<line x1="361" y1="178" x2="374.5" y2="178" stroke="#4474b0" stroke-width="1.2"/>
<line x1="361" y1="188.4" x2="374.5" y2="188.4" stroke="#f0c24c" stroke-width="1.3"/>
<text transform="translate(377.08,158.75) scale(0.982,1)" font-size="6.43" font-family='"Liberation Sans",sans-serif' fill="#1a1a1a" stroke="#1a1a1a" stroke-width="0.2" >SWGWG System Measurement</text>
<text transform="translate(377.08,169.67) scale(1.000,1)" font-size="6.34" font-family='"Liberation Sans",sans-serif' fill="#1a1a1a" stroke="#1a1a1a" stroke-width="0.2" >SWGWG System Simulation</text>
<text transform="translate(377.08,181.22) scale(0.797,1)" font-size="7.95" font-family='"Liberation Sans",sans-serif' fill="#1a1a1a" stroke="#1a1a1a" stroke-width="0.2" >SWGWG Simulation</text>
<text transform="translate(376.90,191.62) scale(0.776,1)" font-size="8.08" font-family='"Liberation Sans",sans-serif' fill="#1a1a1a" stroke="#1a1a1a" stroke-width="0.2" >PhCWG Simulation</text>
<text transform="translate(578.33,138.56) rotate(-90) scale(1.477,1)" font-size="5.59" font-family='"Liberation Sans",sans-serif' fill="#1a1a1a" stroke="#1a1a1a" stroke-width="0.2" >Band Edge</text>
<defs>
<linearGradient id="bwr" x1="0" y1="1" x2="0" y2="0">
<stop offset="0" stop-color="#1c2a8c"/><stop offset="0.25" stop-color="#4a5cb8"/>
<stop offset="0.5" stop-color="#f4f4f8"/><stop offset="0.75" stop-color="#e88080"/>
<stop offset="0.9" stop-color="#e02020"/><stop offset="1" stop-color="#b01010"/></linearGradient>
<linearGradient id="stripe" x1="0" y1="0" x2="0" y2="1">
<stop offset="0" stop-color="#3a56a8" stop-opacity="0"/><stop offset="0.35" stop-color="#dfe6f4"/>
<stop offset="0.5" stop-color="#ffffff"/><stop offset="0.65" stop-color="#dfe6f4"/>
<stop offset="1" stop-color="#3a56a8" stop-opacity="0"/></linearGradient>
<pattern id="holes" x="0" y="0" width="2.6" height="3" patternUnits="userSpaceOnUse">
<rect width="2.6" height="3" fill="#3a54aa"/><rect x="0" y="0" width="0.9" height="3" fill="#2e469c"/></pattern>
</defs>
<rect x="384.1" y="24.5" width="47.0" height="43.0" fill="#fff"/>
<rect x="384.6" y="25.5" width="31.0" height="41.0" fill="#3a56ac"/>
<rect x="390.1" y="32.0" width="20.0" height="28.0" fill="url(#holes)"/>
<rect x="384.6" y="31.7" width="31.0" height="0.8" fill="#304a9e"/>
<rect x="384.6" y="59.5" width="31.0" height="0.8" fill="#304a9e"/>
<rect x="384.6" y="43.199999999999996" width="31.0" height="5.2" fill="url(#stripe)"/>
<rect x="416.8" y="28.1" width="3.8" height="35.6" fill="url(#bwr)"/>
<line x1="420.6" y1="29.10" x2="421.40000000000003" y2="29.10" stroke="#333" stroke-width="0.5"/>
<text transform="translate(421.90,31.34) scale(0.926,1)" font-size="6.48" font-family='"Liberation Sans",sans-serif' fill="#1a1a1a" stroke="#1a1a1a" stroke-width="0.15" >2.0</text>
<line x1="420.6" y1="37.75" x2="421.40000000000003" y2="37.75" stroke="#333" stroke-width="0.5"/>
<text transform="translate(421.71,39.98) scale(0.935,1)" font-size="6.57" font-family='"Liberation Sans",sans-serif' fill="#1a1a1a" stroke="#1a1a1a" stroke-width="0.15" >1.5</text>
<line x1="420.6" y1="46.40" x2="421.40000000000003" y2="46.40" stroke="#333" stroke-width="0.5"/>
<text transform="translate(421.71,48.64) scale(0.948,1)" font-size="6.48" font-family='"Liberation Sans",sans-serif' fill="#1a1a1a" stroke="#1a1a1a" stroke-width="0.15" >1.0</text>
<line x1="420.6" y1="55.05" x2="421.40000000000003" y2="55.05" stroke="#333" stroke-width="0.5"/>
<text transform="translate(421.96,57.29) scale(0.919,1)" font-size="6.48" font-family='"Liberation Sans",sans-serif' fill="#1a1a1a" stroke="#1a1a1a" stroke-width="0.15" >0.5</text>
<line x1="420.6" y1="63.70" x2="421.40000000000003" y2="63.70" stroke="#333" stroke-width="0.5"/>
<text transform="translate(421.96,65.94) scale(0.919,1)" font-size="6.48" font-family='"Liberation Sans",sans-serif' fill="#1a1a1a" stroke="#1a1a1a" stroke-width="0.15" >0.0</text>
<rect x="470.9" y="24.5" width="47.0" height="43.0" fill="#fff"/>
<rect x="471.4" y="25.5" width="31.0" height="41.0" fill="#3a56ac"/>
<rect x="476.9" y="32.0" width="20.0" height="28.0" fill="url(#holes)"/>
<rect x="471.4" y="31.7" width="31.0" height="0.8" fill="#304a9e"/>
<rect x="471.4" y="59.5" width="31.0" height="0.8" fill="#304a9e"/>
<rect x="471.4" y="43.199999999999996" width="31.0" height="5.2" fill="url(#stripe)"/>
<rect x="503.59999999999997" y="28.1" width="3.8" height="35.6" fill="url(#bwr)"/>
<line x1="507.4" y1="29.10" x2="508.2" y2="29.10" stroke="#333" stroke-width="0.5"/>
<text transform="translate(508.70,31.34) scale(0.926,1)" font-size="6.48" font-family='"Liberation Sans",sans-serif' fill="#1a1a1a" stroke="#1a1a1a" stroke-width="0.15" >2.0</text>
<line x1="507.4" y1="37.75" x2="508.2" y2="37.75" stroke="#333" stroke-width="0.5"/>
<text transform="translate(508.51,39.98) scale(0.935,1)" font-size="6.57" font-family='"Liberation Sans",sans-serif' fill="#1a1a1a" stroke="#1a1a1a" stroke-width="0.15" >1.5</text>
<line x1="507.4" y1="46.40" x2="508.2" y2="46.40" stroke="#333" stroke-width="0.5"/>
<text transform="translate(508.51,48.64) scale(0.948,1)" font-size="6.48" font-family='"Liberation Sans",sans-serif' fill="#1a1a1a" stroke="#1a1a1a" stroke-width="0.15" >1.0</text>
<line x1="507.4" y1="55.05" x2="508.2" y2="55.05" stroke="#333" stroke-width="0.5"/>
<text transform="translate(508.76,57.29) scale(0.919,1)" font-size="6.48" font-family='"Liberation Sans",sans-serif' fill="#1a1a1a" stroke="#1a1a1a" stroke-width="0.15" >0.5</text>
<line x1="507.4" y1="63.70" x2="508.2" y2="63.70" stroke="#333" stroke-width="0.5"/>
<text transform="translate(508.76,65.94) scale(0.919,1)" font-size="6.48" font-family='"Liberation Sans",sans-serif' fill="#1a1a1a" stroke="#1a1a1a" stroke-width="0.15" >0.0</text>
<rect x="548.9" y="24.5" width="47.0" height="43.0" fill="#fff"/>
<rect x="549.4" y="25.5" width="31.0" height="41.0" fill="#3a56ac"/>
<rect x="554.9" y="32.0" width="20.0" height="28.0" fill="url(#holes)"/>
<rect x="549.4" y="31.7" width="31.0" height="0.8" fill="#304a9e"/>
<rect x="549.4" y="59.5" width="31.0" height="0.8" fill="#304a9e"/>
<rect x="549.4" y="43.199999999999996" width="31.0" height="5.2" fill="url(#stripe)"/>
<rect x="581.6" y="28.1" width="3.8" height="35.6" fill="url(#bwr)"/>
<line x1="585.4" y1="29.10" x2="586.2" y2="29.10" stroke="#333" stroke-width="0.5"/>
<text transform="translate(586.70,31.34) scale(0.926,1)" font-size="6.48" font-family='"Liberation Sans",sans-serif' fill="#1a1a1a" stroke="#1a1a1a" stroke-width="0.15" >2.0</text>
<line x1="585.4" y1="37.75" x2="586.2" y2="37.75" stroke="#333" stroke-width="0.5"/>
<text transform="translate(586.51,39.98) scale(0.935,1)" font-size="6.57" font-family='"Liberation Sans",sans-serif' fill="#1a1a1a" stroke="#1a1a1a" stroke-width="0.15" >1.5</text>
<line x1="585.4" y1="46.40" x2="586.2" y2="46.40" stroke="#333" stroke-width="0.5"/>
<text transform="translate(586.51,48.64) scale(0.948,1)" font-size="6.48" font-family='"Liberation Sans",sans-serif' fill="#1a1a1a" stroke="#1a1a1a" stroke-width="0.15" >1.0</text>
<line x1="585.4" y1="55.05" x2="586.2" y2="55.05" stroke="#333" stroke-width="0.5"/>
<text transform="translate(586.76,57.29) scale(0.919,1)" font-size="6.48" font-family='"Liberation Sans",sans-serif' fill="#1a1a1a" stroke="#1a1a1a" stroke-width="0.15" >0.5</text>
<line x1="585.4" y1="63.70" x2="586.2" y2="63.70" stroke="#333" stroke-width="0.5"/>
<text transform="translate(586.76,65.94) scale(0.919,1)" font-size="6.48" font-family='"Liberation Sans",sans-serif' fill="#1a1a1a" stroke="#1a1a1a" stroke-width="0.15" >0.0</text>
<rect x="398.4" y="104.6" width="47.0" height="43.0" fill="#fff"/>
<rect x="398.9" y="105.6" width="31.0" height="41.0" fill="#3a56ac"/>
<rect x="404.4" y="112.1" width="20.0" height="28.0" fill="url(#holes)"/>
<rect x="398.9" y="111.8" width="31.0" height="0.8" fill="#304a9e"/>
<rect x="398.9" y="139.6" width="31.0" height="0.8" fill="#304a9e"/>
<rect x="398.9" y="123.3" width="31.0" height="5.2" fill="url(#stripe)"/>
<rect x="431.09999999999997" y="108.19999999999999" width="3.8" height="35.6" fill="url(#bwr)"/>
<line x1="434.9" y1="109.20" x2="435.7" y2="109.20" stroke="#333" stroke-width="0.5"/>
<text transform="translate(436.20,111.44) scale(0.926,1)" font-size="6.48" font-family='"Liberation Sans",sans-serif' fill="#1a1a1a" stroke="#1a1a1a" stroke-width="0.15" >2.0</text>
<line x1="434.9" y1="117.85" x2="435.7" y2="117.85" stroke="#333" stroke-width="0.5"/>
<text transform="translate(436.01,120.08) scale(0.935,1)" font-size="6.57" font-family='"Liberation Sans",sans-serif' fill="#1a1a1a" stroke="#1a1a1a" stroke-width="0.15" >1.5</text>
<line x1="434.9" y1="126.50" x2="435.7" y2="126.50" stroke="#333" stroke-width="0.5"/>
<text transform="translate(436.01,128.74) scale(0.948,1)" font-size="6.48" font-family='"Liberation Sans",sans-serif' fill="#1a1a1a" stroke="#1a1a1a" stroke-width="0.15" >1.0</text>
<line x1="434.9" y1="135.15" x2="435.7" y2="135.15" stroke="#333" stroke-width="0.5"/>
<text transform="translate(436.26,137.39) scale(0.919,1)" font-size="6.48" font-family='"Liberation Sans",sans-serif' fill="#1a1a1a" stroke="#1a1a1a" stroke-width="0.15" >0.5</text>
<line x1="434.9" y1="143.80" x2="435.7" y2="143.80" stroke="#333" stroke-width="0.5"/>
<text transform="translate(436.26,146.04) scale(0.919,1)" font-size="6.48" font-family='"Liberation Sans",sans-serif' fill="#1a1a1a" stroke="#1a1a1a" stroke-width="0.15" >0.0</text>
<rect x="487.7" y="103.4" width="47.0" height="43.0" fill="#fff"/>
<rect x="488.2" y="104.4" width="31.0" height="41.0" fill="#3a56ac"/>
<rect x="493.7" y="110.9" width="20.0" height="28.0" fill="url(#holes)"/>
<rect x="488.2" y="110.60000000000001" width="31.0" height="0.8" fill="#304a9e"/>
<rect x="488.2" y="138.4" width="31.0" height="0.8" fill="#304a9e"/>
<rect x="488.2" y="122.10000000000001" width="31.0" height="5.2" fill="url(#stripe)"/>
<rect x="520.4" y="107.0" width="3.8" height="35.6" fill="url(#bwr)"/>
<line x1="524.1999999999999" y1="108.00" x2="525.0" y2="108.00" stroke="#333" stroke-width="0.5"/>
<text transform="translate(525.50,110.24) scale(0.926,1)" font-size="6.48" font-family='"Liberation Sans",sans-serif' fill="#1a1a1a" stroke="#1a1a1a" stroke-width="0.15" >2.0</text>
<line x1="524.1999999999999" y1="116.65" x2="525.0" y2="116.65" stroke="#333" stroke-width="0.5"/>
<text transform="translate(525.31,118.88) scale(0.935,1)" font-size="6.57" font-family='"Liberation Sans",sans-serif' fill="#1a1a1a" stroke="#1a1a1a" stroke-width="0.15" >1.5</text>
<line x1="524.1999999999999" y1="125.30" x2="525.0" y2="125.30" stroke="#333" stroke-width="0.5"/>
<text transform="translate(525.31,127.54) scale(0.948,1)" font-size="6.48" font-family='"Liberation Sans",sans-serif' fill="#1a1a1a" stroke="#1a1a1a" stroke-width="0.15" >1.0</text>
<line x1="524.1999999999999" y1="133.95" x2="525.0" y2="133.95" stroke="#333" stroke-width="0.5"/>
<text transform="translate(525.56,136.19) scale(0.919,1)" font-size="6.48" font-family='"Liberation Sans",sans-serif' fill="#1a1a1a" stroke="#1a1a1a" stroke-width="0.15" >0.5</text>
<line x1="524.1999999999999" y1="142.60" x2="525.0" y2="142.60" stroke="#333" stroke-width="0.5"/>
<text transform="translate(525.56,144.84) scale(0.919,1)" font-size="6.48" font-family='"Liberation Sans",sans-serif' fill="#1a1a1a" stroke="#1a1a1a" stroke-width="0.15" >0.0</text>
<rect x="523.3" y="148.2" width="47.0" height="43.0" fill="#fff"/>
<rect x="523.8" y="149.2" width="31.0" height="41.0" fill="#3a56ac"/>
<rect x="529.3" y="155.7" width="20.0" height="28.0" fill="url(#holes)"/>
<rect x="523.8" y="155.39999999999998" width="31.0" height="0.8" fill="#304a9e"/>
<rect x="523.8" y="183.2" width="31.0" height="0.8" fill="#304a9e"/>
<rect x="523.8" y="167.1" width="12" height="4.8" fill="url(#stripe)"/>
<ellipse cx="538.0999999999999" cy="169.8" rx="7.6" ry="4.9" fill="#e6e2f0" opacity="0.9"/>
<ellipse cx="538.0999999999999" cy="169.8" rx="5.6" ry="3.4" fill="none" stroke="#98a0d8" stroke-width="0.8"/>
<ellipse cx="538.0999999999999" cy="169.8" rx="3.6" ry="1.8" fill="#f4f0f4"/>
<ellipse cx="538.4" cy="169.7" rx="2.8" ry="1.2" fill="#e25a5a"/>
<rect x="556.0" y="151.79999999999998" width="3.8" height="35.6" fill="url(#bwr)"/>
<line x1="559.8" y1="152.80" x2="560.6" y2="152.80" stroke="#333" stroke-width="0.5"/>
<text transform="translate(561.10,155.04) scale(0.926,1)" font-size="6.48" font-family='"Liberation Sans",sans-serif' fill="#1a1a1a" stroke="#1a1a1a" stroke-width="0.15" >2.0</text>
<line x1="559.8" y1="161.45" x2="560.6" y2="161.45" stroke="#333" stroke-width="0.5"/>
<text transform="translate(560.91,163.68) scale(0.935,1)" font-size="6.57" font-family='"Liberation Sans",sans-serif' fill="#1a1a1a" stroke="#1a1a1a" stroke-width="0.15" >1.5</text>
<line x1="559.8" y1="170.10" x2="560.6" y2="170.10" stroke="#333" stroke-width="0.5"/>
<text transform="translate(560.91,172.34) scale(0.948,1)" font-size="6.48" font-family='"Liberation Sans",sans-serif' fill="#1a1a1a" stroke="#1a1a1a" stroke-width="0.15" >1.0</text>
<line x1="559.8" y1="178.75" x2="560.6" y2="178.75" stroke="#333" stroke-width="0.5"/>
<text transform="translate(561.16,180.99) scale(0.919,1)" font-size="6.48" font-family='"Liberation Sans",sans-serif' fill="#1a1a1a" stroke="#1a1a1a" stroke-width="0.15" >0.5</text>
<line x1="559.8" y1="187.40" x2="560.6" y2="187.40" stroke="#333" stroke-width="0.5"/>
<text transform="translate(561.16,189.64) scale(0.919,1)" font-size="6.48" font-family='"Liberation Sans",sans-serif' fill="#1a1a1a" stroke="#1a1a1a" stroke-width="0.15" >0.0</text>
<line x1="387.5" y1="76.6" x2="398.66" y2="69.00" stroke="#111" stroke-width="0.9"/>
<polygon points="401.3,67.2 399.50,70.24 397.81,67.76" fill="#111"/>
<line x1="388" y1="80.8" x2="394.51" y2="100.76" stroke="#111" stroke-width="0.9"/>
<polygon points="395.5,103.8 393.08,101.22 395.93,100.29" fill="#111"/>
<line x1="479.5" y1="77.2" x2="486.62" y2="69.54" stroke="#111" stroke-width="0.9"/>
<polygon points="488.8,67.2 487.72,70.56 485.52,68.52" fill="#111"/>
<line x1="479.6" y1="83.5" x2="486.61" y2="100.93" stroke="#111" stroke-width="0.9"/>
<polygon points="487.8,103.9 485.21,101.49 488.00,100.37" fill="#111"/>
<line x1="571.4" y1="74" x2="568.26" y2="69.93" stroke="#111" stroke-width="0.9"/>
<polygon points="566.3,67.4 569.44,69.01 567.07,70.85" fill="#111"/>
<line x1="571.4" y1="142.5" x2="559.44" y2="146.49" stroke="#111" stroke-width="0.9"/>
<polygon points="556.4,147.5 558.96,145.07 559.91,147.91" fill="#111"/>
<defs><linearGradient id="bwr2" x1="0" y1="1" x2="0" y2="0">
<stop offset="0" stop-color="#1a2a7a"/><stop offset="0.3" stop-color="#6070b8"/>
<stop offset="0.5" stop-color="#f2f2f4"/><stop offset="0.7" stop-color="#e07070"/>
<stop offset="1" stop-color="#b81818"/></linearGradient>
<pattern id="phc" x="639.2" y="0" width="2.75" height="2.4" patternUnits="userSpaceOnUse">
<circle cx="1.375" cy="1.2" r="0.95" fill="none" stroke="#9a9a9a" stroke-width="0.45"/></pattern>
</defs>
<rect x="627.4" y="23.6" width="57.200000000000045" height="76.3" fill="#fff"/>
<ellipse cx="633" cy="46.1" rx="4.5" ry="4" fill="#faeaea"/>
<ellipse cx="633" cy="76.1" rx="4.5" ry="4" fill="#faeaea"/>
<ellipse cx="633" cy="53.1" rx="4.5" ry="4" fill="#eceef8"/>
<ellipse cx="633" cy="69.1" rx="4.5" ry="4" fill="#eceef8"/>
<circle cx="639.60" cy="57.20" r="1.5" fill="none" stroke="#e07878" stroke-width="0.72"/>
<circle cx="643.60" cy="57.20" r="1.5" fill="none" stroke="#7888d8" stroke-width="0.72"/>
<circle cx="647.60" cy="57.20" r="1.5" fill="none" stroke="#e07878" stroke-width="0.72"/>
<circle cx="651.60" cy="57.20" r="1.5" fill="none" stroke="#7888d8" stroke-width="0.72"/>
<circle cx="655.60" cy="57.20" r="1.5" fill="none" stroke="#e07878" stroke-width="0.72"/>
<circle cx="659.60" cy="57.20" r="1.5" fill="none" stroke="#7888d8" stroke-width="0.72"/>
<circle cx="663.60" cy="57.20" r="1.5" fill="none" stroke="#e07878" stroke-width="0.72"/>
<circle cx="667.60" cy="57.20" r="1.5" fill="none" stroke="#7888d8" stroke-width="0.72"/>
<circle cx="671.60" cy="57.20" r="1.5" fill="none" stroke="#e07878" stroke-width="0.72"/>
<circle cx="675.60" cy="57.20" r="1.5" fill="none" stroke="#8e8e8e" stroke-width="0.72"/>
<circle cx="641.60" cy="53.80" r="1.5" fill="none" stroke="#e89a9a" stroke-width="0.72"/>
<circle cx="645.60" cy="53.80" r="1.5" fill="none" stroke="#9aa6e2" stroke-width="0.72"/>
<circle cx="649.60" cy="53.80" r="1.5" fill="none" stroke="#e89a9a" stroke-width="0.72"/>
<circle cx="653.60" cy="53.80" r="1.5" fill="none" stroke="#9aa6e2" stroke-width="0.72"/>
<circle cx="657.60" cy="53.80" r="1.5" fill="none" stroke="#e89a9a" stroke-width="0.72"/>
<circle cx="661.60" cy="53.80" r="1.5" fill="none" stroke="#9aa6e2" stroke-width="0.72"/>
<circle cx="665.60" cy="53.80" r="1.5" fill="none" stroke="#e89a9a" stroke-width="0.72"/>
<circle cx="669.60" cy="53.80" r="1.5" fill="none" stroke="#9aa6e2" stroke-width="0.72"/>
<circle cx="673.60" cy="53.80" r="1.5" fill="none" stroke="#8e8e8e" stroke-width="0.72"/>
<circle cx="639.60" cy="50.40" r="1.5" fill="none" stroke="#b4bcea" stroke-width="0.72"/>
<circle cx="643.60" cy="50.40" r="1.5" fill="none" stroke="#eeb4b4" stroke-width="0.72"/>
<circle cx="647.60" cy="50.40" r="1.5" fill="none" stroke="#b4bcea" stroke-width="0.72"/>
<circle cx="651.60" cy="50.40" r="1.5" fill="none" stroke="#eeb4b4" stroke-width="0.72"/>
<circle cx="655.60" cy="50.40" r="1.5" fill="none" stroke="#b4bcea" stroke-width="0.72"/>
<circle cx="659.60" cy="50.40" r="1.5" fill="none" stroke="#eeb4b4" stroke-width="0.72"/>
<circle cx="663.60" cy="50.40" r="1.5" fill="none" stroke="#b4bcea" stroke-width="0.72"/>
<circle cx="667.60" cy="50.40" r="1.5" fill="none" stroke="#eeb4b4" stroke-width="0.72"/>
<circle cx="671.60" cy="50.40" r="1.5" fill="none" stroke="#b4bcea" stroke-width="0.72"/>
<circle cx="675.60" cy="50.40" r="1.5" fill="none" stroke="#8e8e8e" stroke-width="0.72"/>
<circle cx="641.60" cy="47.00" r="1.5" fill="none" stroke="#c4caee" stroke-width="0.72"/>
<circle cx="645.60" cy="47.00" r="1.5" fill="none" stroke="#f0c4c4" stroke-width="0.72"/>
<circle cx="649.60" cy="47.00" r="1.5" fill="none" stroke="#c4caee" stroke-width="0.72"/>
<circle cx="653.60" cy="47.00" r="1.5" fill="none" stroke="#f0c4c4" stroke-width="0.72"/>
<circle cx="657.60" cy="47.00" r="1.5" fill="none" stroke="#c4caee" stroke-width="0.72"/>
<circle cx="661.60" cy="47.00" r="1.5" fill="none" stroke="#f0c4c4" stroke-width="0.72"/>
<circle cx="665.60" cy="47.00" r="1.5" fill="none" stroke="#c4caee" stroke-width="0.72"/>
<circle cx="669.60" cy="47.00" r="1.5" fill="none" stroke="#f0c4c4" stroke-width="0.72"/>
<circle cx="673.60" cy="47.00" r="1.5" fill="none" stroke="#8e8e8e" stroke-width="0.72"/>
<circle cx="639.60" cy="43.60" r="1.5" fill="none" stroke="#8e8e8e" stroke-width="0.72"/>
<circle cx="643.60" cy="43.60" r="1.5" fill="none" stroke="#8e8e8e" stroke-width="0.72"/>
<circle cx="647.60" cy="43.60" r="1.5" fill="none" stroke="#8e8e8e" stroke-width="0.72"/>
<circle cx="651.60" cy="43.60" r="1.5" fill="none" stroke="#8e8e8e" stroke-width="0.72"/>
<circle cx="655.60" cy="43.60" r="1.5" fill="none" stroke="#8e8e8e" stroke-width="0.72"/>
<circle cx="659.60" cy="43.60" r="1.5" fill="none" stroke="#8e8e8e" stroke-width="0.72"/>
<circle cx="663.60" cy="43.60" r="1.5" fill="none" stroke="#8e8e8e" stroke-width="0.72"/>
<circle cx="667.60" cy="43.60" r="1.5" fill="none" stroke="#8e8e8e" stroke-width="0.72"/>
<circle cx="671.60" cy="43.60" r="1.5" fill="none" stroke="#8e8e8e" stroke-width="0.72"/>
<circle cx="675.60" cy="43.60" r="1.5" fill="none" stroke="#8e8e8e" stroke-width="0.72"/>
<circle cx="641.60" cy="40.20" r="1.5" fill="none" stroke="#8e8e8e" stroke-width="0.72"/>
<circle cx="645.60" cy="40.20" r="1.5" fill="none" stroke="#8e8e8e" stroke-width="0.72"/>
<circle cx="649.60" cy="40.20" r="1.5" fill="none" stroke="#8e8e8e" stroke-width="0.72"/>
<circle cx="653.60" cy="40.20" r="1.5" fill="none" stroke="#8e8e8e" stroke-width="0.72"/>
<circle cx="657.60" cy="40.20" r="1.5" fill="none" stroke="#8e8e8e" stroke-width="0.72"/>
<circle cx="661.60" cy="40.20" r="1.5" fill="none" stroke="#8e8e8e" stroke-width="0.72"/>
<circle cx="665.60" cy="40.20" r="1.5" fill="none" stroke="#8e8e8e" stroke-width="0.72"/>
<circle cx="669.60" cy="40.20" r="1.5" fill="none" stroke="#8e8e8e" stroke-width="0.72"/>
<circle cx="673.60" cy="40.20" r="1.5" fill="none" stroke="#8e8e8e" stroke-width="0.72"/>
<circle cx="639.60" cy="36.80" r="1.5" fill="none" stroke="#8e8e8e" stroke-width="0.72"/>
<circle cx="643.60" cy="36.80" r="1.5" fill="none" stroke="#8e8e8e" stroke-width="0.72"/>
<circle cx="647.60" cy="36.80" r="1.5" fill="none" stroke="#8e8e8e" stroke-width="0.72"/>
<circle cx="651.60" cy="36.80" r="1.5" fill="none" stroke="#8e8e8e" stroke-width="0.72"/>
<circle cx="655.60" cy="36.80" r="1.5" fill="none" stroke="#8e8e8e" stroke-width="0.72"/>
<circle cx="659.60" cy="36.80" r="1.5" fill="none" stroke="#8e8e8e" stroke-width="0.72"/>
<circle cx="663.60" cy="36.80" r="1.5" fill="none" stroke="#8e8e8e" stroke-width="0.72"/>
<circle cx="667.60" cy="36.80" r="1.5" fill="none" stroke="#8e8e8e" stroke-width="0.72"/>
<circle cx="671.60" cy="36.80" r="1.5" fill="none" stroke="#8e8e8e" stroke-width="0.72"/>
<circle cx="675.60" cy="36.80" r="1.5" fill="none" stroke="#8e8e8e" stroke-width="0.72"/>
<circle cx="641.60" cy="33.40" r="1.5" fill="none" stroke="#8e8e8e" stroke-width="0.72"/>
<circle cx="645.60" cy="33.40" r="1.5" fill="none" stroke="#8e8e8e" stroke-width="0.72"/>
<circle cx="649.60" cy="33.40" r="1.5" fill="none" stroke="#8e8e8e" stroke-width="0.72"/>
<circle cx="653.60" cy="33.40" r="1.5" fill="none" stroke="#8e8e8e" stroke-width="0.72"/>
<circle cx="657.60" cy="33.40" r="1.5" fill="none" stroke="#8e8e8e" stroke-width="0.72"/>
<circle cx="661.60" cy="33.40" r="1.5" fill="none" stroke="#8e8e8e" stroke-width="0.72"/>
<circle cx="665.60" cy="33.40" r="1.5" fill="none" stroke="#8e8e8e" stroke-width="0.72"/>
<circle cx="669.60" cy="33.40" r="1.5" fill="none" stroke="#8e8e8e" stroke-width="0.72"/>
<circle cx="673.60" cy="33.40" r="1.5" fill="none" stroke="#8e8e8e" stroke-width="0.72"/>
<circle cx="639.60" cy="65.00" r="1.5" fill="none" stroke="#7888d8" stroke-width="0.72"/>
<circle cx="643.60" cy="65.00" r="1.5" fill="none" stroke="#e07878" stroke-width="0.72"/>
<circle cx="647.60" cy="65.00" r="1.5" fill="none" stroke="#7888d8" stroke-width="0.72"/>
<circle cx="651.60" cy="65.00" r="1.5" fill="none" stroke="#e07878" stroke-width="0.72"/>
<circle cx="655.60" cy="65.00" r="1.5" fill="none" stroke="#7888d8" stroke-width="0.72"/>
<circle cx="659.60" cy="65.00" r="1.5" fill="none" stroke="#e07878" stroke-width="0.72"/>
<circle cx="663.60" cy="65.00" r="1.5" fill="none" stroke="#7888d8" stroke-width="0.72"/>
<circle cx="667.60" cy="65.00" r="1.5" fill="none" stroke="#e07878" stroke-width="0.72"/>
<circle cx="671.60" cy="65.00" r="1.5" fill="none" stroke="#7888d8" stroke-width="0.72"/>
<circle cx="675.60" cy="65.00" r="1.5" fill="none" stroke="#8e8e8e" stroke-width="0.72"/>
<circle cx="641.60" cy="68.40" r="1.5" fill="none" stroke="#9aa6e2" stroke-width="0.72"/>
<circle cx="645.60" cy="68.40" r="1.5" fill="none" stroke="#e89a9a" stroke-width="0.72"/>
<circle cx="649.60" cy="68.40" r="1.5" fill="none" stroke="#9aa6e2" stroke-width="0.72"/>
<circle cx="653.60" cy="68.40" r="1.5" fill="none" stroke="#e89a9a" stroke-width="0.72"/>
<circle cx="657.60" cy="68.40" r="1.5" fill="none" stroke="#9aa6e2" stroke-width="0.72"/>
<circle cx="661.60" cy="68.40" r="1.5" fill="none" stroke="#e89a9a" stroke-width="0.72"/>
<circle cx="665.60" cy="68.40" r="1.5" fill="none" stroke="#9aa6e2" stroke-width="0.72"/>
<circle cx="669.60" cy="68.40" r="1.5" fill="none" stroke="#e89a9a" stroke-width="0.72"/>
<circle cx="673.60" cy="68.40" r="1.5" fill="none" stroke="#8e8e8e" stroke-width="0.72"/>
<circle cx="639.60" cy="71.80" r="1.5" fill="none" stroke="#eeb4b4" stroke-width="0.72"/>
<circle cx="643.60" cy="71.80" r="1.5" fill="none" stroke="#b4bcea" stroke-width="0.72"/>
<circle cx="647.60" cy="71.80" r="1.5" fill="none" stroke="#eeb4b4" stroke-width="0.72"/>
<circle cx="651.60" cy="71.80" r="1.5" fill="none" stroke="#b4bcea" stroke-width="0.72"/>
<circle cx="655.60" cy="71.80" r="1.5" fill="none" stroke="#eeb4b4" stroke-width="0.72"/>
<circle cx="659.60" cy="71.80" r="1.5" fill="none" stroke="#b4bcea" stroke-width="0.72"/>
<circle cx="663.60" cy="71.80" r="1.5" fill="none" stroke="#eeb4b4" stroke-width="0.72"/>
<circle cx="667.60" cy="71.80" r="1.5" fill="none" stroke="#b4bcea" stroke-width="0.72"/>
<circle cx="671.60" cy="71.80" r="1.5" fill="none" stroke="#eeb4b4" stroke-width="0.72"/>
<circle cx="675.60" cy="71.80" r="1.5" fill="none" stroke="#8e8e8e" stroke-width="0.72"/>
<circle cx="641.60" cy="75.20" r="1.5" fill="none" stroke="#f0c4c4" stroke-width="0.72"/>
<circle cx="645.60" cy="75.20" r="1.5" fill="none" stroke="#c4caee" stroke-width="0.72"/>
<circle cx="649.60" cy="75.20" r="1.5" fill="none" stroke="#f0c4c4" stroke-width="0.72"/>
<circle cx="653.60" cy="75.20" r="1.5" fill="none" stroke="#c4caee" stroke-width="0.72"/>
<circle cx="657.60" cy="75.20" r="1.5" fill="none" stroke="#f0c4c4" stroke-width="0.72"/>
<circle cx="661.60" cy="75.20" r="1.5" fill="none" stroke="#c4caee" stroke-width="0.72"/>
<circle cx="665.60" cy="75.20" r="1.5" fill="none" stroke="#f0c4c4" stroke-width="0.72"/>
<circle cx="669.60" cy="75.20" r="1.5" fill="none" stroke="#c4caee" stroke-width="0.72"/>
<circle cx="673.60" cy="75.20" r="1.5" fill="none" stroke="#8e8e8e" stroke-width="0.72"/>
<circle cx="639.60" cy="78.60" r="1.5" fill="none" stroke="#8e8e8e" stroke-width="0.72"/>
<circle cx="643.60" cy="78.60" r="1.5" fill="none" stroke="#8e8e8e" stroke-width="0.72"/>
<circle cx="647.60" cy="78.60" r="1.5" fill="none" stroke="#8e8e8e" stroke-width="0.72"/>
<circle cx="651.60" cy="78.60" r="1.5" fill="none" stroke="#8e8e8e" stroke-width="0.72"/>
<circle cx="655.60" cy="78.60" r="1.5" fill="none" stroke="#8e8e8e" stroke-width="0.72"/>
<circle cx="659.60" cy="78.60" r="1.5" fill="none" stroke="#8e8e8e" stroke-width="0.72"/>
<circle cx="663.60" cy="78.60" r="1.5" fill="none" stroke="#8e8e8e" stroke-width="0.72"/>
<circle cx="667.60" cy="78.60" r="1.5" fill="none" stroke="#8e8e8e" stroke-width="0.72"/>
<circle cx="671.60" cy="78.60" r="1.5" fill="none" stroke="#8e8e8e" stroke-width="0.72"/>
<circle cx="675.60" cy="78.60" r="1.5" fill="none" stroke="#8e8e8e" stroke-width="0.72"/>
<circle cx="641.60" cy="82.00" r="1.5" fill="none" stroke="#8e8e8e" stroke-width="0.72"/>
<circle cx="645.60" cy="82.00" r="1.5" fill="none" stroke="#8e8e8e" stroke-width="0.72"/>
<circle cx="649.60" cy="82.00" r="1.5" fill="none" stroke="#8e8e8e" stroke-width="0.72"/>
<circle cx="653.60" cy="82.00" r="1.5" fill="none" stroke="#8e8e8e" stroke-width="0.72"/>
<circle cx="657.60" cy="82.00" r="1.5" fill="none" stroke="#8e8e8e" stroke-width="0.72"/>
<circle cx="661.60" cy="82.00" r="1.5" fill="none" stroke="#8e8e8e" stroke-width="0.72"/>
<circle cx="665.60" cy="82.00" r="1.5" fill="none" stroke="#8e8e8e" stroke-width="0.72"/>
<circle cx="669.60" cy="82.00" r="1.5" fill="none" stroke="#8e8e8e" stroke-width="0.72"/>
<circle cx="673.60" cy="82.00" r="1.5" fill="none" stroke="#8e8e8e" stroke-width="0.72"/>
<circle cx="639.60" cy="85.40" r="1.5" fill="none" stroke="#8e8e8e" stroke-width="0.72"/>
<circle cx="643.60" cy="85.40" r="1.5" fill="none" stroke="#8e8e8e" stroke-width="0.72"/>
<circle cx="647.60" cy="85.40" r="1.5" fill="none" stroke="#8e8e8e" stroke-width="0.72"/>
<circle cx="651.60" cy="85.40" r="1.5" fill="none" stroke="#8e8e8e" stroke-width="0.72"/>
<circle cx="655.60" cy="85.40" r="1.5" fill="none" stroke="#8e8e8e" stroke-width="0.72"/>
<circle cx="659.60" cy="85.40" r="1.5" fill="none" stroke="#8e8e8e" stroke-width="0.72"/>
<circle cx="663.60" cy="85.40" r="1.5" fill="none" stroke="#8e8e8e" stroke-width="0.72"/>
<circle cx="667.60" cy="85.40" r="1.5" fill="none" stroke="#8e8e8e" stroke-width="0.72"/>
<circle cx="671.60" cy="85.40" r="1.5" fill="none" stroke="#8e8e8e" stroke-width="0.72"/>
<circle cx="675.60" cy="85.40" r="1.5" fill="none" stroke="#8e8e8e" stroke-width="0.72"/>
<circle cx="641.60" cy="88.80" r="1.5" fill="none" stroke="#8e8e8e" stroke-width="0.72"/>
<circle cx="645.60" cy="88.80" r="1.5" fill="none" stroke="#8e8e8e" stroke-width="0.72"/>
<circle cx="649.60" cy="88.80" r="1.5" fill="none" stroke="#8e8e8e" stroke-width="0.72"/>
<circle cx="653.60" cy="88.80" r="1.5" fill="none" stroke="#8e8e8e" stroke-width="0.72"/>
<circle cx="657.60" cy="88.80" r="1.5" fill="none" stroke="#8e8e8e" stroke-width="0.72"/>
<circle cx="661.60" cy="88.80" r="1.5" fill="none" stroke="#8e8e8e" stroke-width="0.72"/>
<circle cx="665.60" cy="88.80" r="1.5" fill="none" stroke="#8e8e8e" stroke-width="0.72"/>
<circle cx="669.60" cy="88.80" r="1.5" fill="none" stroke="#8e8e8e" stroke-width="0.72"/>
<circle cx="673.60" cy="88.80" r="1.5" fill="none" stroke="#8e8e8e" stroke-width="0.72"/>
<line x1="627.4" y1="37.9" x2="639.2" y2="37.9" stroke="#8a8a8a" stroke-width="0.8"/>
<line x1="679.4" y1="37.9" x2="684.6" y2="37.9" stroke="#8a8a8a" stroke-width="0.8"/>
<line x1="627.4" y1="84.3" x2="639.2" y2="84.3" stroke="#8a8a8a" stroke-width="0.8"/>
<line x1="679.4" y1="84.3" x2="684.6" y2="84.3" stroke="#8a8a8a" stroke-width="0.8"/>
<line x1="627.4" y1="58.1" x2="684.6" y2="58.1" stroke="#9a9a9a" stroke-width="0.6"/>
<line x1="627.4" y1="64.1" x2="684.6" y2="64.1" stroke="#9a9a9a" stroke-width="0.6"/>
<ellipse cx="628.8" cy="58.6" rx="0.7" ry="0.9" fill="#2434a0"/>
<ellipse cx="628.8" cy="63.6" rx="0.7" ry="0.9" fill="#d82828"/>
<ellipse cx="631.0" cy="58.6" rx="0.7" ry="0.9" fill="#d82828"/>
<ellipse cx="631.0" cy="63.6" rx="0.7" ry="0.9" fill="#2434a0"/>
<ellipse cx="633.2" cy="58.6" rx="0.7" ry="0.9" fill="#2434a0"/>
<ellipse cx="633.2" cy="63.6" rx="0.7" ry="0.9" fill="#d82828"/>
<ellipse cx="635.4" cy="58.6" rx="0.7" ry="0.9" fill="#d82828"/>
<ellipse cx="635.4" cy="63.6" rx="0.7" ry="0.9" fill="#2434a0"/>
<ellipse cx="637.6" cy="58.6" rx="0.7" ry="0.9" fill="#2434a0"/>
<ellipse cx="637.6" cy="63.6" rx="0.7" ry="0.9" fill="#d82828"/>
<ellipse cx="642.5" cy="59.2" rx="1.35" ry="1.8" fill="#2434a0"/>
<ellipse cx="642.5" cy="63.4" rx="1.35" ry="1.8" fill="#d82828"/>
<ellipse cx="647" cy="59.2" rx="1.35" ry="1.8" fill="#d82828"/>
<ellipse cx="647" cy="63.4" rx="1.35" ry="1.8" fill="#2434a0"/>
<ellipse cx="650.7" cy="59.2" rx="1.35" ry="1.8" fill="#8090d0"/>
<ellipse cx="650.7" cy="63.4" rx="1.35" ry="1.8" fill="#e88888"/>
<ellipse cx="658.5" cy="59.2" rx="1.35" ry="1.8" fill="#d82828"/>
<ellipse cx="658.5" cy="63.4" rx="1.35" ry="1.8" fill="#2434a0"/>
<ellipse cx="662.7" cy="59.2" rx="1.35" ry="1.8" fill="#2434a0"/>
<ellipse cx="662.7" cy="63.4" rx="1.35" ry="1.8" fill="#d82828"/>
<ellipse cx="666.9" cy="59.2" rx="1.35" ry="1.8" fill="#d82828"/>
<ellipse cx="666.9" cy="63.4" rx="1.35" ry="1.8" fill="#2434a0"/>
<ellipse cx="671" cy="59.2" rx="1.35" ry="1.8" fill="#8090d0"/>
<ellipse cx="671" cy="63.4" rx="1.35" ry="1.8" fill="#e88888"/>
<rect x="627.4" y="23.6" width="57.200000000000045" height="76.3" fill="none" stroke="#333" stroke-width="0.9"/>
<rect x="687.2" y="24.6" width="2.5" height="73.5" fill="url(#bwr2)"/>
<text transform="translate(686.65,21.00) scale(0.602,1)" font-size="7.25" font-family='"Liberation Sans",sans-serif' fill="#222" >E</text>
<text x="689.4" y="22.0" font-size="2.6" font-family='"Liberation Sans",sans-serif' fill="#222">y</text>
<text transform="translate(691.30,26.26) scale(0.882,1)" font-size="4.29" font-family='"Liberation Sans",sans-serif' fill="#444" >1.5</text>
<text transform="translate(691.30,38.16) scale(0.894,1)" font-size="4.23" font-family='"Liberation Sans",sans-serif' fill="#444" >1.0</text>
<text transform="translate(691.45,50.06) scale(0.867,1)" font-size="4.23" font-family='"Liberation Sans",sans-serif' fill="#444" >0.5</text>
<text transform="translate(691.45,61.96) scale(0.867,1)" font-size="4.23" font-family='"Liberation Sans",sans-serif' fill="#444" >0.0</text>
<text transform="translate(691.45,73.86) scale(0.861,1)" font-size="4.23" font-family='"Liberation Sans",sans-serif' fill="#444" >-0.5</text>
<text transform="translate(691.45,85.76) scale(0.861,1)" font-size="4.23" font-family='"Liberation Sans",sans-serif' fill="#444" >-1.0</text>
<text transform="translate(691.45,97.66) scale(0.848,1)" font-size="4.29" font-family='"Liberation Sans",sans-serif' fill="#444" >-1.5</text>
<text transform="translate(623.85,37.65) scale(0.729,1)" font-size="5.14" font-family='"Liberation Sans",sans-serif' fill="#333" >5</text>
<line x1="626.1999999999999" y1="35.9" x2="627.4" y2="35.9" stroke="#333" stroke-width="0.5"/>
<text transform="translate(623.85,62.85) scale(0.740,1)" font-size="5.07" font-family='"Liberation Sans",sans-serif' fill="#333" >0</text>
<line x1="626.1999999999999" y1="61.1" x2="627.4" y2="61.1" stroke="#333" stroke-width="0.5"/>
<text transform="translate(622.44,88.05) scale(0.768,1)" font-size="5.14" font-family='"Liberation Sans",sans-serif' fill="#333" >-5</text>
<line x1="626.1999999999999" y1="86.3" x2="627.4" y2="86.3" stroke="#333" stroke-width="0.5"/>
<text transform="translate(637.95,106.05) scale(0.720,1)" font-size="5.21" font-family='"Liberation Sans",sans-serif' fill="#333" >0</text>
<text transform="translate(657.35,106.05) scale(0.709,1)" font-size="5.29" font-family='"Liberation Sans",sans-serif' fill="#333" >5</text>
<text transform="translate(675.51,106.05) scale(0.691,1)" font-size="5.21" font-family='"Liberation Sans",sans-serif' fill="#333" >10</text>
<text transform="translate(647.74,114.02) scale(1.038,1)" font-size="5.16" font-family='"Liberation Sans",sans-serif' fill="#222" >X (μm)</text>
<text transform="translate(620.34,70.23) rotate(-90) scale(1.592,1)" font-size="4.09" font-family='"Liberation Sans",sans-serif' fill="#222" >Y (μm)</text>
<rect x="627.4" y="129.6" width="57.200000000000045" height="76.3" fill="#fff"/>
<ellipse cx="633" cy="152.1" rx="4.5" ry="4" fill="#faeaea"/>
<ellipse cx="633" cy="182.1" rx="4.5" ry="4" fill="#faeaea"/>
<ellipse cx="633" cy="159.1" rx="4.5" ry="4" fill="#eceef8"/>
<ellipse cx="633" cy="175.1" rx="4.5" ry="4" fill="#eceef8"/>
<circle cx="639.60" cy="163.20" r="1.5" fill="none" stroke="#e48c8c" stroke-width="0.72"/>
<circle cx="643.60" cy="163.20" r="1.5" fill="none" stroke="#8e8e8e" stroke-width="0.72"/>
<circle cx="647.60" cy="163.20" r="1.5" fill="none" stroke="#e48c8c" stroke-width="0.72"/>
<circle cx="651.60" cy="163.20" r="1.5" fill="none" stroke="#8c98dc" stroke-width="0.72"/>
<circle cx="655.60" cy="163.20" r="1.5" fill="none" stroke="#8c98dc" stroke-width="0.72"/>
<circle cx="659.60" cy="163.20" r="1.5" fill="none" stroke="#e48c8c" stroke-width="0.72"/>
<circle cx="663.60" cy="163.20" r="1.5" fill="none" stroke="#e48c8c" stroke-width="0.72"/>
<circle cx="667.60" cy="163.20" r="1.5" fill="none" stroke="#e48c8c" stroke-width="0.72"/>
<circle cx="671.60" cy="163.20" r="1.5" fill="none" stroke="#8c98dc" stroke-width="0.72"/>
<circle cx="675.60" cy="163.20" r="1.5" fill="none" stroke="#a8b0e0" stroke-width="0.72"/>
<circle cx="641.60" cy="159.80" r="1.5" fill="none" stroke="#8c98dc" stroke-width="0.72"/>
<circle cx="645.60" cy="159.80" r="1.5" fill="none" stroke="#e48c8c" stroke-width="0.72"/>
<circle cx="649.60" cy="159.80" r="1.5" fill="none" stroke="#8c98dc" stroke-width="0.72"/>
<circle cx="653.60" cy="159.80" r="1.5" fill="none" stroke="#dca8a8" stroke-width="0.72"/>
<circle cx="657.60" cy="159.80" r="1.5" fill="none" stroke="#8c98dc" stroke-width="0.72"/>
<circle cx="661.60" cy="159.80" r="1.5" fill="none" stroke="#8c98dc" stroke-width="0.72"/>
<circle cx="665.60" cy="159.80" r="1.5" fill="none" stroke="#8c98dc" stroke-width="0.72"/>
<circle cx="669.60" cy="159.80" r="1.5" fill="none" stroke="#8c98dc" stroke-width="0.72"/>
<circle cx="673.60" cy="159.80" r="1.5" fill="none" stroke="#a8b0e0" stroke-width="0.72"/>
<circle cx="639.60" cy="156.40" r="1.5" fill="none" stroke="#dca8a8" stroke-width="0.72"/>
<circle cx="643.60" cy="156.40" r="1.5" fill="none" stroke="#8c98dc" stroke-width="0.72"/>
<circle cx="647.60" cy="156.40" r="1.5" fill="none" stroke="#dca8a8" stroke-width="0.72"/>
<circle cx="651.60" cy="156.40" r="1.5" fill="none" stroke="#a8b0e0" stroke-width="0.72"/>
<circle cx="655.60" cy="156.40" r="1.5" fill="none" stroke="#8e8e8e" stroke-width="0.72"/>
<circle cx="659.60" cy="156.40" r="1.5" fill="none" stroke="#a8b0e0" stroke-width="0.72"/>
<circle cx="663.60" cy="156.40" r="1.5" fill="none" stroke="#dca8a8" stroke-width="0.72"/>
<circle cx="667.60" cy="156.40" r="1.5" fill="none" stroke="#a8b0e0" stroke-width="0.72"/>
<circle cx="671.60" cy="156.40" r="1.5" fill="none" stroke="#dca8a8" stroke-width="0.72"/>
<circle cx="675.60" cy="156.40" r="1.5" fill="none" stroke="#8e8e8e" stroke-width="0.72"/>
<circle cx="641.60" cy="153.00" r="1.5" fill="none" stroke="#a8b0e0" stroke-width="0.72"/>
<circle cx="645.60" cy="153.00" r="1.5" fill="none" stroke="#dca8a8" stroke-width="0.72"/>
<circle cx="649.60" cy="153.00" r="1.5" fill="none" stroke="#8e8e8e" stroke-width="0.72"/>
<circle cx="653.60" cy="153.00" r="1.5" fill="none" stroke="#8e8e8e" stroke-width="0.72"/>
<circle cx="657.60" cy="153.00" r="1.5" fill="none" stroke="#8e8e8e" stroke-width="0.72"/>
<circle cx="661.60" cy="153.00" r="1.5" fill="none" stroke="#8e8e8e" stroke-width="0.72"/>
<circle cx="665.60" cy="153.00" r="1.5" fill="none" stroke="#8e8e8e" stroke-width="0.72"/>
<circle cx="669.60" cy="153.00" r="1.5" fill="none" stroke="#8e8e8e" stroke-width="0.72"/>
<circle cx="673.60" cy="153.00" r="1.5" fill="none" stroke="#8e8e8e" stroke-width="0.72"/>
<circle cx="639.60" cy="149.60" r="1.5" fill="none" stroke="#8e8e8e" stroke-width="0.72"/>
<circle cx="643.60" cy="149.60" r="1.5" fill="none" stroke="#8e8e8e" stroke-width="0.72"/>
<circle cx="647.60" cy="149.60" r="1.5" fill="none" stroke="#8e8e8e" stroke-width="0.72"/>
<circle cx="651.60" cy="149.60" r="1.5" fill="none" stroke="#8e8e8e" stroke-width="0.72"/>
<circle cx="655.60" cy="149.60" r="1.5" fill="none" stroke="#8e8e8e" stroke-width="0.72"/>
<circle cx="659.60" cy="149.60" r="1.5" fill="none" stroke="#8e8e8e" stroke-width="0.72"/>
<circle cx="663.60" cy="149.60" r="1.5" fill="none" stroke="#8e8e8e" stroke-width="0.72"/>
<circle cx="667.60" cy="149.60" r="1.5" fill="none" stroke="#8e8e8e" stroke-width="0.72"/>
<circle cx="671.60" cy="149.60" r="1.5" fill="none" stroke="#8e8e8e" stroke-width="0.72"/>
<circle cx="675.60" cy="149.60" r="1.5" fill="none" stroke="#8e8e8e" stroke-width="0.72"/>
<circle cx="641.60" cy="146.20" r="1.5" fill="none" stroke="#8e8e8e" stroke-width="0.72"/>
<circle cx="645.60" cy="146.20" r="1.5" fill="none" stroke="#8e8e8e" stroke-width="0.72"/>
<circle cx="649.60" cy="146.20" r="1.5" fill="none" stroke="#8e8e8e" stroke-width="0.72"/>
<circle cx="653.60" cy="146.20" r="1.5" fill="none" stroke="#8e8e8e" stroke-width="0.72"/>
<circle cx="657.60" cy="146.20" r="1.5" fill="none" stroke="#8e8e8e" stroke-width="0.72"/>
<circle cx="661.60" cy="146.20" r="1.5" fill="none" stroke="#8e8e8e" stroke-width="0.72"/>
<circle cx="665.60" cy="146.20" r="1.5" fill="none" stroke="#8e8e8e" stroke-width="0.72"/>
<circle cx="669.60" cy="146.20" r="1.5" fill="none" stroke="#8e8e8e" stroke-width="0.72"/>
<circle cx="673.60" cy="146.20" r="1.5" fill="none" stroke="#8e8e8e" stroke-width="0.72"/>
<circle cx="639.60" cy="142.80" r="1.5" fill="none" stroke="#8e8e8e" stroke-width="0.72"/>
<circle cx="643.60" cy="142.80" r="1.5" fill="none" stroke="#8e8e8e" stroke-width="0.72"/>
<circle cx="647.60" cy="142.80" r="1.5" fill="none" stroke="#8e8e8e" stroke-width="0.72"/>
<circle cx="651.60" cy="142.80" r="1.5" fill="none" stroke="#8e8e8e" stroke-width="0.72"/>
<circle cx="655.60" cy="142.80" r="1.5" fill="none" stroke="#8e8e8e" stroke-width="0.72"/>
<circle cx="659.60" cy="142.80" r="1.5" fill="none" stroke="#8e8e8e" stroke-width="0.72"/>
<circle cx="663.60" cy="142.80" r="1.5" fill="none" stroke="#8e8e8e" stroke-width="0.72"/>
<circle cx="667.60" cy="142.80" r="1.5" fill="none" stroke="#8e8e8e" stroke-width="0.72"/>
<circle cx="671.60" cy="142.80" r="1.5" fill="none" stroke="#8e8e8e" stroke-width="0.72"/>
<circle cx="675.60" cy="142.80" r="1.5" fill="none" stroke="#8e8e8e" stroke-width="0.72"/>
<circle cx="641.60" cy="139.40" r="1.5" fill="none" stroke="#8e8e8e" stroke-width="0.72"/>
<circle cx="645.60" cy="139.40" r="1.5" fill="none" stroke="#8e8e8e" stroke-width="0.72"/>
<circle cx="649.60" cy="139.40" r="1.5" fill="none" stroke="#8e8e8e" stroke-width="0.72"/>
<circle cx="653.60" cy="139.40" r="1.5" fill="none" stroke="#8e8e8e" stroke-width="0.72"/>
<circle cx="657.60" cy="139.40" r="1.5" fill="none" stroke="#8e8e8e" stroke-width="0.72"/>
<circle cx="661.60" cy="139.40" r="1.5" fill="none" stroke="#8e8e8e" stroke-width="0.72"/>
<circle cx="665.60" cy="139.40" r="1.5" fill="none" stroke="#8e8e8e" stroke-width="0.72"/>
<circle cx="669.60" cy="139.40" r="1.5" fill="none" stroke="#8e8e8e" stroke-width="0.72"/>
<circle cx="673.60" cy="139.40" r="1.5" fill="none" stroke="#8e8e8e" stroke-width="0.72"/>
<circle cx="639.60" cy="171.00" r="1.5" fill="none" stroke="#e48c8c" stroke-width="0.72"/>
<circle cx="643.60" cy="171.00" r="1.5" fill="none" stroke="#8e8e8e" stroke-width="0.72"/>
<circle cx="647.60" cy="171.00" r="1.5" fill="none" stroke="#e48c8c" stroke-width="0.72"/>
<circle cx="651.60" cy="171.00" r="1.5" fill="none" stroke="#8c98dc" stroke-width="0.72"/>
<circle cx="655.60" cy="171.00" r="1.5" fill="none" stroke="#8c98dc" stroke-width="0.72"/>
<circle cx="659.60" cy="171.00" r="1.5" fill="none" stroke="#e48c8c" stroke-width="0.72"/>
<circle cx="663.60" cy="171.00" r="1.5" fill="none" stroke="#e48c8c" stroke-width="0.72"/>
<circle cx="667.60" cy="171.00" r="1.5" fill="none" stroke="#e48c8c" stroke-width="0.72"/>
<circle cx="671.60" cy="171.00" r="1.5" fill="none" stroke="#8c98dc" stroke-width="0.72"/>
<circle cx="675.60" cy="171.00" r="1.5" fill="none" stroke="#a8b0e0" stroke-width="0.72"/>
<circle cx="641.60" cy="174.40" r="1.5" fill="none" stroke="#8c98dc" stroke-width="0.72"/>
<circle cx="645.60" cy="174.40" r="1.5" fill="none" stroke="#e48c8c" stroke-width="0.72"/>
<circle cx="649.60" cy="174.40" r="1.5" fill="none" stroke="#8c98dc" stroke-width="0.72"/>
<circle cx="653.60" cy="174.40" r="1.5" fill="none" stroke="#dca8a8" stroke-width="0.72"/>
<circle cx="657.60" cy="174.40" r="1.5" fill="none" stroke="#8c98dc" stroke-width="0.72"/>
<circle cx="661.60" cy="174.40" r="1.5" fill="none" stroke="#8c98dc" stroke-width="0.72"/>
<circle cx="665.60" cy="174.40" r="1.5" fill="none" stroke="#8c98dc" stroke-width="0.72"/>
<circle cx="669.60" cy="174.40" r="1.5" fill="none" stroke="#8c98dc" stroke-width="0.72"/>
<circle cx="673.60" cy="174.40" r="1.5" fill="none" stroke="#a8b0e0" stroke-width="0.72"/>
<circle cx="639.60" cy="177.80" r="1.5" fill="none" stroke="#dca8a8" stroke-width="0.72"/>
<circle cx="643.60" cy="177.80" r="1.5" fill="none" stroke="#8c98dc" stroke-width="0.72"/>
<circle cx="647.60" cy="177.80" r="1.5" fill="none" stroke="#dca8a8" stroke-width="0.72"/>
<circle cx="651.60" cy="177.80" r="1.5" fill="none" stroke="#a8b0e0" stroke-width="0.72"/>
<circle cx="655.60" cy="177.80" r="1.5" fill="none" stroke="#8e8e8e" stroke-width="0.72"/>
<circle cx="659.60" cy="177.80" r="1.5" fill="none" stroke="#a8b0e0" stroke-width="0.72"/>
<circle cx="663.60" cy="177.80" r="1.5" fill="none" stroke="#dca8a8" stroke-width="0.72"/>
<circle cx="667.60" cy="177.80" r="1.5" fill="none" stroke="#a8b0e0" stroke-width="0.72"/>
<circle cx="671.60" cy="177.80" r="1.5" fill="none" stroke="#dca8a8" stroke-width="0.72"/>
<circle cx="675.60" cy="177.80" r="1.5" fill="none" stroke="#8e8e8e" stroke-width="0.72"/>
<circle cx="641.60" cy="181.20" r="1.5" fill="none" stroke="#a8b0e0" stroke-width="0.72"/>
<circle cx="645.60" cy="181.20" r="1.5" fill="none" stroke="#dca8a8" stroke-width="0.72"/>
<circle cx="649.60" cy="181.20" r="1.5" fill="none" stroke="#8e8e8e" stroke-width="0.72"/>
<circle cx="653.60" cy="181.20" r="1.5" fill="none" stroke="#8e8e8e" stroke-width="0.72"/>
<circle cx="657.60" cy="181.20" r="1.5" fill="none" stroke="#8e8e8e" stroke-width="0.72"/>
<circle cx="661.60" cy="181.20" r="1.5" fill="none" stroke="#8e8e8e" stroke-width="0.72"/>
<circle cx="665.60" cy="181.20" r="1.5" fill="none" stroke="#8e8e8e" stroke-width="0.72"/>
<circle cx="669.60" cy="181.20" r="1.5" fill="none" stroke="#8e8e8e" stroke-width="0.72"/>
<circle cx="673.60" cy="181.20" r="1.5" fill="none" stroke="#8e8e8e" stroke-width="0.72"/>
<circle cx="639.60" cy="184.60" r="1.5" fill="none" stroke="#8e8e8e" stroke-width="0.72"/>
<circle cx="643.60" cy="184.60" r="1.5" fill="none" stroke="#8e8e8e" stroke-width="0.72"/>
<circle cx="647.60" cy="184.60" r="1.5" fill="none" stroke="#8e8e8e" stroke-width="0.72"/>
<circle cx="651.60" cy="184.60" r="1.5" fill="none" stroke="#8e8e8e" stroke-width="0.72"/>
<circle cx="655.60" cy="184.60" r="1.5" fill="none" stroke="#8e8e8e" stroke-width="0.72"/>
<circle cx="659.60" cy="184.60" r="1.5" fill="none" stroke="#8e8e8e" stroke-width="0.72"/>
<circle cx="663.60" cy="184.60" r="1.5" fill="none" stroke="#8e8e8e" stroke-width="0.72"/>
<circle cx="667.60" cy="184.60" r="1.5" fill="none" stroke="#8e8e8e" stroke-width="0.72"/>
<circle cx="671.60" cy="184.60" r="1.5" fill="none" stroke="#8e8e8e" stroke-width="0.72"/>
<circle cx="675.60" cy="184.60" r="1.5" fill="none" stroke="#8e8e8e" stroke-width="0.72"/>
<circle cx="641.60" cy="188.00" r="1.5" fill="none" stroke="#8e8e8e" stroke-width="0.72"/>
<circle cx="645.60" cy="188.00" r="1.5" fill="none" stroke="#8e8e8e" stroke-width="0.72"/>
<circle cx="649.60" cy="188.00" r="1.5" fill="none" stroke="#8e8e8e" stroke-width="0.72"/>
<circle cx="653.60" cy="188.00" r="1.5" fill="none" stroke="#8e8e8e" stroke-width="0.72"/>
<circle cx="657.60" cy="188.00" r="1.5" fill="none" stroke="#8e8e8e" stroke-width="0.72"/>
<circle cx="661.60" cy="188.00" r="1.5" fill="none" stroke="#8e8e8e" stroke-width="0.72"/>
<circle cx="665.60" cy="188.00" r="1.5" fill="none" stroke="#8e8e8e" stroke-width="0.72"/>
<circle cx="669.60" cy="188.00" r="1.5" fill="none" stroke="#8e8e8e" stroke-width="0.72"/>
<circle cx="673.60" cy="188.00" r="1.5" fill="none" stroke="#8e8e8e" stroke-width="0.72"/>
<circle cx="639.60" cy="191.40" r="1.5" fill="none" stroke="#8e8e8e" stroke-width="0.72"/>
<circle cx="643.60" cy="191.40" r="1.5" fill="none" stroke="#8e8e8e" stroke-width="0.72"/>
<circle cx="647.60" cy="191.40" r="1.5" fill="none" stroke="#8e8e8e" stroke-width="0.72"/>
<circle cx="651.60" cy="191.40" r="1.5" fill="none" stroke="#8e8e8e" stroke-width="0.72"/>
<circle cx="655.60" cy="191.40" r="1.5" fill="none" stroke="#8e8e8e" stroke-width="0.72"/>
<circle cx="659.60" cy="191.40" r="1.5" fill="none" stroke="#8e8e8e" stroke-width="0.72"/>
<circle cx="663.60" cy="191.40" r="1.5" fill="none" stroke="#8e8e8e" stroke-width="0.72"/>
<circle cx="667.60" cy="191.40" r="1.5" fill="none" stroke="#8e8e8e" stroke-width="0.72"/>
<circle cx="671.60" cy="191.40" r="1.5" fill="none" stroke="#8e8e8e" stroke-width="0.72"/>
<circle cx="675.60" cy="191.40" r="1.5" fill="none" stroke="#8e8e8e" stroke-width="0.72"/>
<circle cx="641.60" cy="194.80" r="1.5" fill="none" stroke="#8e8e8e" stroke-width="0.72"/>
<circle cx="645.60" cy="194.80" r="1.5" fill="none" stroke="#8e8e8e" stroke-width="0.72"/>
<circle cx="649.60" cy="194.80" r="1.5" fill="none" stroke="#8e8e8e" stroke-width="0.72"/>
<circle cx="653.60" cy="194.80" r="1.5" fill="none" stroke="#8e8e8e" stroke-width="0.72"/>
<circle cx="657.60" cy="194.80" r="1.5" fill="none" stroke="#8e8e8e" stroke-width="0.72"/>
<circle cx="661.60" cy="194.80" r="1.5" fill="none" stroke="#8e8e8e" stroke-width="0.72"/>
<circle cx="665.60" cy="194.80" r="1.5" fill="none" stroke="#8e8e8e" stroke-width="0.72"/>
<circle cx="669.60" cy="194.80" r="1.5" fill="none" stroke="#8e8e8e" stroke-width="0.72"/>
<circle cx="673.60" cy="194.80" r="1.5" fill="none" stroke="#8e8e8e" stroke-width="0.72"/>
<line x1="627.4" y1="143.9" x2="639.2" y2="143.9" stroke="#8a8a8a" stroke-width="0.8"/>
<line x1="679.4" y1="143.9" x2="684.6" y2="143.9" stroke="#8a8a8a" stroke-width="0.8"/>
<line x1="627.4" y1="190.3" x2="639.2" y2="190.3" stroke="#8a8a8a" stroke-width="0.8"/>
<line x1="679.4" y1="190.3" x2="684.6" y2="190.3" stroke="#8a8a8a" stroke-width="0.8"/>
<line x1="627.4" y1="164.1" x2="684.6" y2="164.1" stroke="#9a9a9a" stroke-width="0.6"/>
<line x1="627.4" y1="170.1" x2="684.6" y2="170.1" stroke="#9a9a9a" stroke-width="0.6"/>
<circle cx="644.3" cy="167.1" r="5.6" fill="none" stroke="#e49a9a" stroke-width="0.9" opacity="0.7"/>
<circle cx="664.3" cy="167.1" r="5.6" fill="none" stroke="#e49a9a" stroke-width="0.9" opacity="0.7"/>
<rect x="627.45" y="164.7" width="1.3" height="4.8" rx="0.7" fill="#2434a0" opacity="0.9"/>
<rect x="631.15" y="164.7" width="1.3" height="4.8" rx="0.7" fill="#d82828" opacity="0.9"/>
<rect x="634.25" y="164.7" width="1.3" height="4.8" rx="0.7" fill="#2434a0" opacity="0.9"/>
<rect x="637.35" y="164.7" width="1.3" height="4.8" rx="0.7" fill="#d82828" opacity="0.7"/>
<rect x="640.20" y="164.7" width="2.0" height="4.8" rx="0.7" fill="#2434a0" opacity="1"/>
<rect x="643.20" y="164.7" width="2.2" height="4.8" rx="0.7" fill="#d82828" opacity="1"/>
<rect x="647.00" y="164.7" width="2.0" height="4.8" rx="0.7" fill="#2434a0" opacity="1"/>
<rect x="650.85" y="164.7" width="1.5" height="4.8" rx="0.7" fill="#e88888" opacity="0.9"/>
<rect x="655.85" y="164.7" width="1.3" height="4.8" rx="0.7" fill="#8090d0" opacity="0.5"/>
<rect x="659.55" y="164.7" width="1.9" height="4.8" rx="0.7" fill="#2434a0" opacity="0.9"/>
<rect x="663.50" y="164.7" width="2.0" height="4.8" rx="0.7" fill="#d82828" opacity="0.9"/>
<rect x="666.85" y="164.7" width="1.9" height="4.8" rx="0.7" fill="#2434a0" opacity="0.9"/>
<rect x="670.55" y="164.7" width="1.3" height="4.8" rx="0.7" fill="#e88888" opacity="0.6"/>
<rect x="674.40" y="164.7" width="1.2" height="4.8" rx="0.7" fill="#8090d0" opacity="0.5"/>
<rect x="678.40" y="164.7" width="1.2" height="4.8" rx="0.7" fill="#e88888" opacity="0.35"/>
<rect x="681.90" y="164.7" width="1.2" height="4.8" rx="0.7" fill="#8090d0" opacity="0.35"/>
<rect x="627.4" y="129.6" width="57.200000000000045" height="76.3" fill="none" stroke="#333" stroke-width="0.9"/>
<rect x="687.2" y="130.6" width="2.5" height="73.5" fill="url(#bwr2)"/>
<text transform="translate(686.65,127.00) scale(0.602,1)" font-size="7.25" font-family='"Liberation Sans",sans-serif' fill="#222" >E</text>
<text x="689.4" y="128.0" font-size="2.6" font-family='"Liberation Sans",sans-serif' fill="#222">y</text>
<text transform="translate(691.30,132.26) scale(0.882,1)" font-size="4.29" font-family='"Liberation Sans",sans-serif' fill="#444" >1.5</text>
<text transform="translate(691.30,144.16) scale(0.894,1)" font-size="4.23" font-family='"Liberation Sans",sans-serif' fill="#444" >1.0</text>
<text transform="translate(691.45,156.06) scale(0.867,1)" font-size="4.23" font-family='"Liberation Sans",sans-serif' fill="#444" >0.5</text>
<text transform="translate(691.45,167.96) scale(0.867,1)" font-size="4.23" font-family='"Liberation Sans",sans-serif' fill="#444" >0.0</text>
<text transform="translate(691.45,179.86) scale(0.861,1)" font-size="4.23" font-family='"Liberation Sans",sans-serif' fill="#444" >-0.5</text>
<text transform="translate(691.45,191.76) scale(0.861,1)" font-size="4.23" font-family='"Liberation Sans",sans-serif' fill="#444" >-1.0</text>
<text transform="translate(691.45,203.66) scale(0.848,1)" font-size="4.29" font-family='"Liberation Sans",sans-serif' fill="#444" >-1.5</text>
<text transform="translate(623.85,143.65) scale(0.729,1)" font-size="5.14" font-family='"Liberation Sans",sans-serif' fill="#333" >5</text>
<line x1="626.1999999999999" y1="141.9" x2="627.4" y2="141.9" stroke="#333" stroke-width="0.5"/>
<text transform="translate(623.85,168.85) scale(0.740,1)" font-size="5.07" font-family='"Liberation Sans",sans-serif' fill="#333" >0</text>
<line x1="626.1999999999999" y1="167.1" x2="627.4" y2="167.1" stroke="#333" stroke-width="0.5"/>
<text transform="translate(622.44,194.05) scale(0.768,1)" font-size="5.14" font-family='"Liberation Sans",sans-serif' fill="#333" >-5</text>
<line x1="626.1999999999999" y1="192.3" x2="627.4" y2="192.3" stroke="#333" stroke-width="0.5"/>
<text transform="translate(637.95,212.05) scale(0.720,1)" font-size="5.21" font-family='"Liberation Sans",sans-serif' fill="#333" >0</text>
<text transform="translate(657.35,212.05) scale(0.709,1)" font-size="5.29" font-family='"Liberation Sans",sans-serif' fill="#333" >5</text>
<text transform="translate(675.51,212.05) scale(0.691,1)" font-size="5.21" font-family='"Liberation Sans",sans-serif' fill="#333" >10</text>
<text transform="translate(647.74,220.02) scale(1.038,1)" font-size="5.16" font-family='"Liberation Sans",sans-serif' fill="#222" >X (μm)</text>
<text transform="translate(620.34,176.23) rotate(-90) scale(1.592,1)" font-size="4.09" font-family='"Liberation Sans",sans-serif' fill="#222" >Y (μm)</text>
</svg>
</div>
<script>
(function(){
var c=document.getElementById('hm');if(!c||!c.getContext)return;var ctx=c.getContext('2d');
var W=246,H=160;var img=ctx.createImageData(W,H);var d=img.data;
var st=[[0,55,52,118],[0.09,42,58,150],[0.2,40,90,190],[0.3,50,140,215],[0.39,60,180,225],[0.48,120,200,170],[0.58,190,215,90],[0.62,240,220,60],[0.77,240,120,40],[0.9,220,40,30],[1,130,20,30]];
function jet(t){if(t<0)t=0;if(t>1)t=1;
 for(var i=1;i<st.length;i++){if(t<=st[i][0]){var a=st[i-1],b=st[i];var f=(t-a[0])/(b[0]-a[0]);return [a[1]+(b[1]-a[1])*f,a[2]+(b[2]-a[2])*f,a[3]+(b[3]-a[3])*f];}}
 return [130,20,30];}
var XL=127.5,XR=221,YT=77.5,YS=104,YB=121;
function G(u,dy){var r2=u*u+dy*dy;var r=Math.sqrt(r2);return Math.exp(-Math.pow(r/26,1.9)*r2/(r2+36));}
function gs(X,Y){return G(Math.abs(X-172)/2.75,Y-104.4);}
function gr(X,Y){var dx=Math.abs(X-172);var m=Math.max(0,dx-28);var k=0.028*Math.min(1.6,Math.max(0,(104-Y)/12));return G((dx+k*m*m)/2.7,Y-104.4);}
for(var y=0;y<H;y++){for(var x=0;x<W;x++){
 var X=x+51.5,Y=y+22.5,t;
 var inSlab=(Y>=YS&&Y<=YB), inRidge=(X>=XL&&X<=XR&&Y>=YT&&Y<YS);
 var hy=(Y<100)?30:48; var halo=0.27*Math.exp(-Math.pow((X-185)/140,2)-Math.pow((Y-102)/hy,2));
 if(inSlab){var wo=Math.min(1,Math.max(0,Math.max(XL-X,X-XR)/12));t=gs(X,Y)+halo*0.3*wo;}
 else if(inRidge){t=gr(X,Y);}
 else if(Y>YB){
   var dist=Y-YB; t=gs(X,YB)*0.3*Math.exp(-dist/22)+halo;
 } else if(Y<YS&&Y>=YT&&(X<XL||X>XR)){
   var bx=(X<XL)?XL:XR; var dd=Math.abs(X-bx); var dsl=YS-Y;
   var tv=gr(bx,Y)*(0.5*Math.exp(-dd/5)*Math.exp(-dsl/10)+0.9*Math.exp(-dd/30)); var ts=gs(X,YS)*0.9*Math.exp(-dsl/20);
   t=Math.max(tv,ts)+halo;
 } else {
   var cxx=Math.min(Math.max(X,XL),XR); var da=Math.hypot(X-cxx,YT-Y);
   var ta=gr(cxx,YT)*0.9*Math.exp(-da/15);
   var t2=gs(X,YS)*0.9*Math.exp(-(YS-Y)/20);
   t=Math.max(ta,t2)+halo;
 }
 var p=jet(t);var k=(y*W+x)*4;d[k]=p[0];d[k+1]=p[1];d[k+2]=p[2];d[k+3]=255;}}
ctx.putImageData(img,0,0);
})();

</script>
</body></html>
